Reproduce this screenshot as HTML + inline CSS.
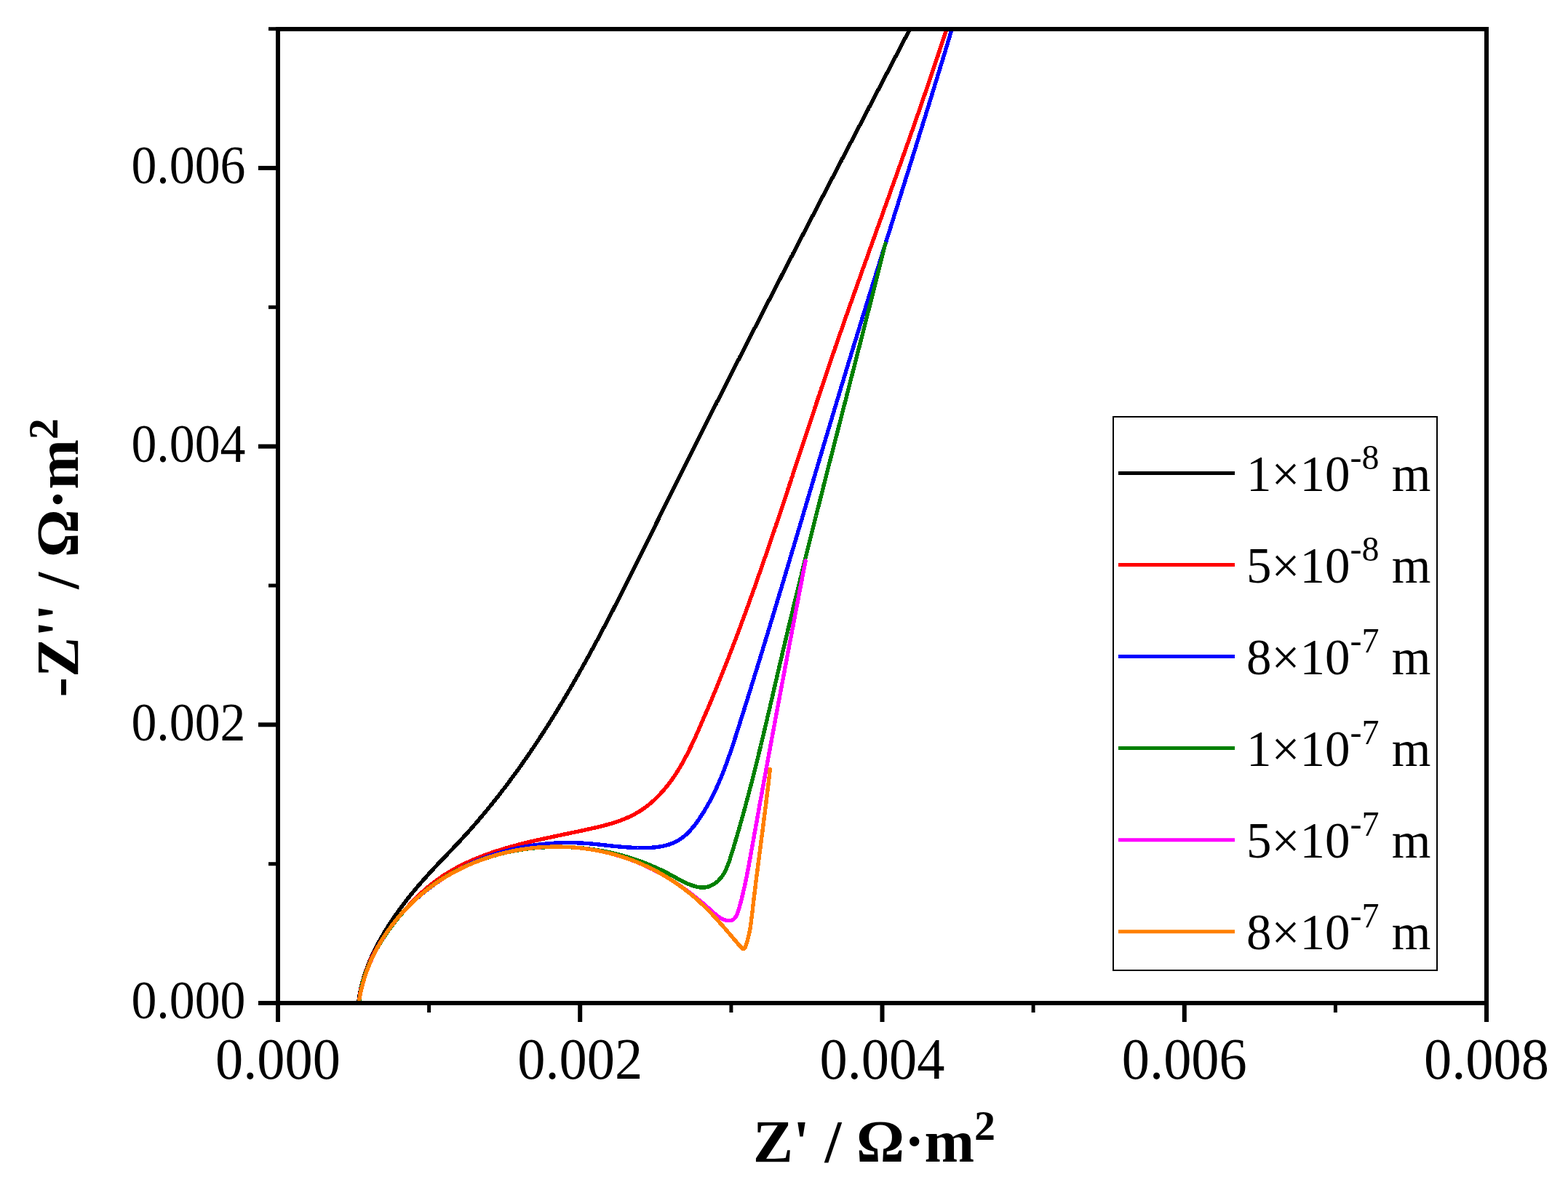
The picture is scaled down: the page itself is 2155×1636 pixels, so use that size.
<!DOCTYPE html><html><head><meta charset="utf-8"><title>Nyquist plot</title><style>html,body{margin:0;padding:0;background:#fff;overflow:hidden;}svg{display:block;}text{font-family:"Liberation Serif","Times New Roman",serif;fill:#000;}</style></head><body>
<svg width="2155" height="1636" viewBox="0 0 2155 1636">
<rect x="0" y="0" width="2155" height="1636" fill="#fff"/>
<defs><clipPath id="pa"><rect x="382" y="40" width="1661" height="1339"/></clipPath></defs>
<g clip-path="url(#pa)" shape-rendering="crispEdges" fill="none" stroke-width="5.4" stroke-linejoin="round" stroke-linecap="round">
<path stroke="#000000" d="M492.5,1379.0 L492.7,1377.5 L492.9,1376.0 L493.1,1374.5 L493.3,1373.0 L493.5,1371.5 L493.8,1370.0 L494.0,1368.5 L494.3,1367.1 L494.5,1365.6 L494.8,1364.1 L495.1,1362.6 L495.4,1361.1 L495.7,1359.7 L496.1,1358.2 L496.4,1356.8 L496.7,1355.3 L497.1,1353.8 L497.5,1352.4 L497.8,1350.9 L498.2,1349.5 L498.6,1348.1 L499.0,1346.6 L499.5,1345.2 L499.9,1343.8 L500.3,1342.3 L500.8,1340.9 L501.2,1339.5 L501.7,1338.1 L502.2,1336.6 L502.7,1335.2 L503.2,1333.8 L503.7,1332.4 L504.2,1331.0 L504.7,1329.6 L505.2,1328.2 L505.8,1326.8 L506.3,1325.4 L506.9,1324.1 L507.4,1322.7 L508.0,1321.3 L508.6,1319.9 L509.2,1318.6 L509.8,1317.2 L510.4,1315.8 L511.0,1314.5 L511.6,1313.1 L512.3,1311.7 L512.9,1310.4 L513.5,1309.0 L514.2,1307.7 L514.8,1306.4 L515.5,1305.0 L516.2,1303.7 L516.8,1302.3 L517.5,1301.0 L518.2,1299.7 L518.9,1298.4 L519.6,1297.0 L520.3,1295.7 L521.0,1294.4 L521.8,1293.1 L522.5,1291.8 L523.2,1290.5 L523.9,1289.2 L524.7,1287.9 L525.4,1286.6 L526.2,1285.3 L526.9,1284.0 L527.7,1282.7 L528.5,1281.4 L529.2,1280.2 L530.0,1278.9 L530.8,1277.6 L531.6,1276.3 L532.4,1275.1 L533.2,1273.8 L534.0,1272.5 L534.8,1271.3 L535.6,1270.0 L536.4,1268.8 L537.2,1267.5 L538.1,1266.3 L538.9,1265.0 L539.7,1263.8 L540.6,1262.6 L541.4,1261.3 L542.2,1260.1 L543.1,1258.9 L543.9,1257.6 L544.8,1256.4 L545.7,1255.2 L546.5,1254.0 L547.4,1252.8 L548.3,1251.6 L549.1,1250.3 L550.0,1249.1 L550.9,1247.9 L551.8,1246.7 L552.7,1245.5 L553.6,1244.3 L554.5,1243.1 L555.4,1241.9 L556.3,1240.8 L557.2,1239.6 L558.1,1238.4 L559.0,1237.2 L560.0,1236.0 L560.9,1234.8 L561.8,1233.7 L562.8,1232.5 L563.7,1231.3 L564.6,1230.2 L565.6,1229.0 L566.5,1227.8 L567.5,1226.7 L568.4,1225.5 L569.4,1224.4 L570.3,1223.2 L571.3,1222.1 L572.3,1220.9 L573.2,1219.8 L574.2,1218.6 L575.2,1217.5 L576.2,1216.3 L577.1,1215.2 L578.1,1214.1 L579.1,1212.9 L580.1,1211.8 L581.1,1210.7 L582.1,1209.5 L583.1,1208.4 L584.1,1207.3 L585.1,1206.2 L586.1,1205.0 L587.1,1203.9 L588.1,1202.8 L589.1,1201.7 L590.1,1200.6 L591.2,1199.5 L592.2,1198.4 L593.2,1197.3 L594.2,1196.1 L595.2,1195.0 L596.3,1193.9 L597.3,1192.8 L598.3,1191.7 L599.4,1190.6 L600.4,1189.5 L601.4,1188.4 L602.5,1187.3 L603.5,1186.3 L604.6,1185.2 L605.6,1184.1 L606.6,1183.0 L607.7,1181.9 L608.7,1180.8 L609.8,1179.7 L610.8,1178.6 L611.9,1177.5 L612.9,1176.4 L613.9,1175.3 L615.0,1174.2 L616.0,1173.1 L617.1,1172.1 L618.1,1171.0 L619.2,1169.9 L620.2,1168.8 L621.2,1167.7 L622.3,1166.6 L623.3,1165.5 L624.4,1164.4 L625.4,1163.3 L626.4,1162.2 L627.5,1161.1 L628.5,1160.0 L629.5,1158.9 L630.6,1157.8 L631.6,1156.7 L632.6,1155.6 L633.6,1154.5 L634.7,1153.4 L635.7,1152.3 L636.7,1151.2 L637.7,1150.1 L638.7,1149.0 L639.7,1147.9 L640.7,1146.7 L641.8,1145.6 L642.8,1144.5 L643.8,1143.4 L644.8,1142.3 L645.8,1141.2 L646.8,1140.0 L647.8,1138.9 L648.8,1137.8 L649.7,1136.7 L650.7,1135.5 L651.7,1134.4 L652.7,1133.3 L653.7,1132.1 L654.7,1131.0 L655.6,1129.9 L656.6,1128.7 L657.6,1127.6 L658.6,1126.4 L659.5,1125.3 L660.5,1124.2 L661.5,1123.0 L662.4,1121.9 L663.4,1120.7 L664.4,1119.6 L665.3,1118.4 L666.3,1117.3 L667.2,1116.1 L668.2,1115.0 L669.2,1113.8 L670.1,1112.7 L671.1,1111.5 L672.0,1110.3 L672.9,1109.2 L673.9,1108.0 L674.8,1106.9 L675.8,1105.7 L676.7,1104.5 L677.6,1103.4 L678.6,1102.2 L679.5,1101.0 L680.4,1099.9 L681.4,1098.7 L682.3,1097.5 L683.2,1096.4 L684.1,1095.2 L685.1,1094.0 L686.0,1092.8 L686.9,1091.6 L687.8,1090.5 L688.7,1089.3 L689.6,1088.1 L690.5,1086.9 L691.5,1085.7 L692.4,1084.5 L693.3,1083.4 L694.2,1082.2 L695.1,1081.0 L696.0,1079.8 L696.9,1078.6 L697.8,1077.4 L698.7,1076.2 L699.6,1075.0 L700.4,1073.8 L701.3,1072.6 L702.2,1071.4 L703.1,1070.2 L704.0,1069.0 L704.9,1067.8 L705.8,1066.6 L706.6,1065.4 L707.5,1064.2 L708.4,1063.0 L709.3,1061.8 L710.1,1060.6 L711.0,1059.4 L711.9,1058.2 L712.8,1057.0 L713.6,1055.7 L714.5,1054.5 L715.4,1053.3 L716.2,1052.1 L717.1,1050.9 L717.9,1049.7 L718.8,1048.4 L719.6,1047.2 L720.5,1046.0 L721.4,1044.8 L722.2,1043.5 L723.1,1042.3 L723.9,1041.1 L724.8,1039.9 L725.6,1038.6 L726.4,1037.4 L727.3,1036.2 L728.1,1034.9 L729.0,1033.7 L729.8,1032.5 L730.6,1031.2 L731.5,1030.0 L732.3,1028.8 L733.1,1027.5 L734.0,1026.3 L734.8,1025.1 L735.6,1023.8 L736.5,1022.6 L737.3,1021.3 L738.1,1020.1 L738.9,1018.8 L739.8,1017.6 L740.6,1016.4 L741.4,1015.1 L742.2,1013.9 L743.0,1012.6 L743.8,1011.4 L744.6,1010.1 L745.5,1008.9 L746.3,1007.6 L747.1,1006.4 L747.9,1005.1 L748.7,1003.8 L749.5,1002.6 L750.3,1001.3 L751.1,1000.1 L751.9,998.8 L752.7,997.6 L753.5,996.3 L754.3,995.0 L755.1,993.8 L755.9,992.5 L756.7,991.2 L757.5,990.0 L758.3,988.7 L759.1,987.4 L759.8,986.2 L760.6,984.9 L761.4,983.6 L762.2,982.4 L763.0,981.1 L763.8,979.8 L764.5,978.6 L765.3,977.3 L766.1,976.0 L766.9,974.7 L767.7,973.5 L768.4,972.2 L769.2,970.9 L770.0,969.6 L770.8,968.3 L771.5,967.1 L772.3,965.8 L773.1,964.5 L773.8,963.2 L774.6,961.9 L775.4,960.6 L776.1,959.4 L776.9,958.1 L777.6,956.8 L778.4,955.5 L779.2,954.2 L779.9,952.9 L780.7,951.6 L781.4,950.4 L782.2,949.1 L782.9,947.8 L783.7,946.5 L784.5,945.2 L785.2,943.9 L786.0,942.6 L786.7,941.3 L787.5,940.0 L788.2,938.7 L788.9,937.4 L789.7,936.1 L790.4,934.8 L791.2,933.5 L791.9,932.2 L792.7,930.9 L793.4,929.6 L794.1,928.3 L794.9,927.0 L795.6,925.7 L796.3,924.4 L797.1,923.1 L797.8,921.8 L798.5,920.5 L799.3,919.2 L800.0,917.9 L800.7,916.6 L801.5,915.3 L802.2,914.0 L802.9,912.7 L803.7,911.3 L804.4,910.0 L805.1,908.7 L805.8,907.4 L806.6,906.1 L807.3,904.8 L808.0,903.5 L808.7,902.2 L809.4,900.8 L810.2,899.5 L810.9,898.2 L811.6,896.9 L812.3,895.6 L813.0,894.3 L813.7,893.0 L814.5,891.6 L815.2,890.3 L815.9,889.0 L816.6,887.7 L817.3,886.4 L818.0,885.0 L818.7,883.7 L819.4,882.4 L820.2,881.1 L820.9,879.8 L821.6,878.4 L822.3,877.1 L823.0,875.8 L823.7,874.5 L824.4,873.1 L825.1,871.8 L825.8,870.5 L826.5,869.2 L827.2,867.8 L827.9,866.5 L828.6,865.2 L829.3,863.8 L830.0,862.5 L830.7,861.2 L831.4,859.9 L832.1,858.5 L832.8,857.2 L833.5,855.9 L834.2,854.5 L834.9,853.2 L835.6,851.9 L836.3,850.5 L837.0,849.2 L837.6,847.9 L838.3,846.6 L839.0,845.2 L839.7,843.9 L840.4,842.6 L841.1,841.2 L841.8,839.9 L842.5,838.5 L843.2,837.2 L843.8,835.9 L844.5,834.5 L845.2,833.2 L845.9,831.9 L846.6,830.5 L847.3,829.2 L848.0,827.9 L848.6,826.5 L849.3,825.2 L850.0,823.8 L850.7,822.5 L851.4,821.2 L852.1,819.8 L852.7,818.5 L853.4,817.1 L854.1,815.8 L854.8,814.5 L855.5,813.1 L856.1,811.8 L856.8,810.4 L857.5,809.1 L858.2,807.8 L858.8,806.4 L859.5,805.1 L860.2,803.7 L860.9,802.4 L861.6,801.0 L862.2,799.7 L862.9,798.4 L863.6,797.0 L864.3,795.7 L864.9,794.3 L865.6,793.0 L866.3,791.6 L866.9,790.3 L867.6,788.9 L868.3,787.6 L869.0,786.3 L869.6,784.9 L870.3,783.6 L871.0,782.2 L871.6,780.9 L872.3,779.5 L873.0,778.2 L873.7,776.8 L874.3,775.5 L875.0,774.1 L875.7,772.8 L876.3,771.4 L877.0,770.1 L877.7,768.8 L878.3,767.4 L879.0,766.1 L879.7,764.7 L880.3,763.4 L881.0,762.0 L881.7,760.7 L882.4,759.3 L883.0,758.0 L883.7,756.6 L884.4,755.3 L885.0,753.9 L885.7,752.6 L886.4,751.2 L887.0,749.9 L887.7,748.5 L888.4,747.2 L889.0,745.8 L889.7,744.5 L890.4,743.1 L891.0,741.8 L891.7,740.5 L892.3,739.1 L893.0,737.8 L893.7,736.4 L894.3,735.1 L895.0,733.7 L895.7,732.4 L896.3,731.0 L897.0,729.7 L897.7,728.3 L898.3,727.0 L899.0,725.6 L899.7,724.3 L900.3,722.9 L901.0,721.6 L901.7,720.2 L902.3,718.9 L903.0,717.5 L903.7,716.2 L904.3,714.8 L905.0,713.5 L905.7,712.1 L906.3,710.8 L907.0,709.4 L907.7,708.1 L908.3,706.7 L909.0,705.4 L909.6,704.1 L910.3,702.7 L911.0,701.4 L911.6,700.0 L912.3,698.7 L913.0,697.3 L913.6,696.0 L914.3,694.6 L915.0,693.3 L915.6,691.9 L916.3,690.6 L917.0,689.2 L917.6,687.9 L918.3,686.5 L919.0,685.2 L919.6,683.9 L920.3,682.5 L921.0,681.2 L921.6,679.8 L922.3,678.5 L923.0,677.1 L923.7,675.8 L924.3,674.4 L925.0,673.1 L925.7,671.8 L926.3,670.4 L927.0,669.1 L927.7,667.7 L928.3,666.4 L929.0,665.0 L929.7,663.7 L930.3,662.3 L931.0,661.0 L931.7,659.7 L932.3,658.3 L933.0,657.0 L933.7,655.6 L934.4,654.3 L935.0,652.9 L935.7,651.6 L936.4,650.3 L937.0,648.9 L937.7,647.6 L938.4,646.2 L939.0,644.9 L939.7,643.5 L940.4,642.2 L941.1,640.9 L941.7,639.5 L942.4,638.2 L943.1,636.8 L943.7,635.5 L944.4,634.1 L945.1,632.8 L945.8,631.5 L946.4,630.1 L947.1,628.8 L947.8,627.4 L948.4,626.1 L949.1,624.8 L949.8,623.4 L950.5,622.1 L951.1,620.7 L951.8,619.4 L952.5,618.1 L953.1,616.7 L953.8,615.4 L954.5,614.0 L955.2,612.7 L955.8,611.4 L956.5,610.0 L957.2,608.7 L957.9,607.3 L958.5,606.0 L959.2,604.7 L959.9,603.3 L960.5,602.0 L961.2,600.6 L961.9,599.3 L962.6,598.0 L963.2,596.6 L963.9,595.3 L964.6,593.9 L965.3,592.6 L965.9,591.3 L966.6,589.9 L967.3,588.6 L968.0,587.2 L968.6,585.9 L969.3,584.6 L970.0,583.2 L970.7,581.9 L971.3,580.6 L972.0,579.2 L972.7,577.9 L973.4,576.5 L974.0,575.2 L974.7,573.9 L975.4,572.5 L976.1,571.2 L976.7,569.9 L977.4,568.5 L978.1,567.2 L978.8,565.8 L979.4,564.5 L980.1,563.2 L980.8,561.8 L981.5,560.5 L982.1,559.2 L982.8,557.8 L983.5,556.5 L984.2,555.2 L984.8,553.8 L985.5,552.5 L986.2,551.1 L986.9,549.8 L987.6,548.5 L988.2,547.1 L988.9,545.8 L989.6,544.5 L990.3,543.1 L990.9,541.8 L991.6,540.5 L992.3,539.1 L993.0,537.8 L993.6,536.4 L994.3,535.1 L995.0,533.8 L995.7,532.4 L996.4,531.1 L997.0,529.8 L997.7,528.4 L998.4,527.1 L999.1,525.8 L999.8,524.4 L1000.4,523.1 L1001.1,521.8 L1001.8,520.4 L1002.5,519.1 L1003.1,517.8 L1003.8,516.4 L1004.5,515.1 L1005.2,513.8 L1005.9,512.4 L1006.5,511.1 L1007.2,509.8 L1007.9,508.4 L1008.6,507.1 L1009.3,505.8 L1009.9,504.4 L1010.6,503.1 L1011.3,501.8 L1012.0,500.4 L1012.7,499.1 L1013.3,497.8 L1014.0,496.4 L1014.7,495.1 L1015.4,493.8 L1016.1,492.4 L1016.7,491.1 L1017.4,489.8 L1018.1,488.4 L1018.8,487.1 L1019.5,485.8 L1020.1,484.4 L1020.8,483.1 L1021.5,481.8 L1022.2,480.4 L1022.9,479.1 L1023.5,477.8 L1024.2,476.4 L1024.9,475.1 L1025.6,473.8 L1026.3,472.4 L1027.0,471.1 L1027.6,469.8 L1028.3,468.4 L1029.0,467.1 L1029.7,465.8 L1030.4,464.4 L1031.0,463.1 L1031.7,461.8 L1032.4,460.4 L1033.1,459.1 L1033.8,457.8 L1034.5,456.4 L1035.1,455.1 L1035.8,453.8 L1036.5,452.4 L1037.2,451.1 L1037.9,449.8 L1038.6,448.5 L1039.2,447.1 L1039.9,445.8 L1040.6,444.5 L1041.3,443.1 L1042.0,441.8 L1042.6,440.5 L1043.3,439.1 L1044.0,437.8 L1044.7,436.5 L1045.4,435.1 L1046.1,433.8 L1046.7,432.5 L1047.4,431.1 L1048.1,429.8 L1048.8,428.5 L1049.5,427.2 L1050.2,425.8 L1050.9,424.5 L1051.5,423.2 L1052.2,421.8 L1052.9,420.5 L1053.6,419.2 L1054.3,417.8 L1055.0,416.5 L1055.6,415.2 L1056.3,413.8 L1057.0,412.5 L1057.7,411.2 L1058.4,409.9 L1059.1,408.5 L1059.7,407.2 L1060.4,405.9 L1061.1,404.5 L1061.8,403.2 L1062.5,401.9 L1063.2,400.5 L1063.9,399.2 L1064.5,397.9 L1065.2,396.6 L1065.9,395.2 L1066.6,393.9 L1067.3,392.6 L1068.0,391.2 L1068.7,389.9 L1069.3,388.6 L1070.0,387.2 L1070.7,385.9 L1071.4,384.6 L1072.1,383.3 L1072.8,381.9 L1073.5,380.6 L1074.1,379.3 L1074.8,377.9 L1075.5,376.6 L1076.2,375.3 L1076.9,374.0 L1077.6,372.6 L1078.3,371.3 L1078.9,370.0 L1079.6,368.6 L1080.3,367.3 L1081.0,366.0 L1081.7,364.6 L1082.4,363.3 L1083.1,362.0 L1083.8,360.7 L1084.4,359.3 L1085.1,358.0 L1085.8,356.7 L1086.5,355.3 L1087.2,354.0 L1087.9,352.7 L1088.6,351.4 L1089.3,350.0 L1089.9,348.7 L1090.6,347.4 L1091.3,346.0 L1092.0,344.7 L1092.7,343.4 L1093.4,342.1 L1094.1,340.7 L1094.8,339.4 L1095.4,338.1 L1096.1,336.7 L1096.8,335.4 L1097.5,334.1 L1098.2,332.8 L1098.9,331.4 L1099.6,330.1 L1100.3,328.8 L1100.9,327.4 L1101.6,326.1 L1102.3,324.8 L1103.0,323.5 L1103.7,322.1 L1104.4,320.8 L1105.1,319.5 L1105.8,318.1 L1106.5,316.8 L1107.1,315.5 L1107.8,314.2 L1108.5,312.8 L1109.2,311.5 L1109.9,310.2 L1110.6,308.8 L1111.3,307.5 L1112.0,306.2 L1112.7,304.9 L1113.3,303.5 L1114.0,302.2 L1114.7,300.9 L1115.4,299.5 L1116.1,298.2 L1116.8,296.9 L1117.5,295.6 L1118.2,294.2 L1118.9,292.9 L1119.5,291.6 L1120.2,290.2 L1120.9,288.9 L1121.6,287.6 L1122.3,286.3 L1123.0,284.9 L1123.7,283.6 L1124.4,282.3 L1125.1,280.9 L1125.8,279.6 L1126.4,278.3 L1127.1,277.0 L1127.8,275.6 L1128.5,274.3 L1129.2,273.0 L1129.9,271.6 L1130.6,270.3 L1131.3,269.0 L1132.0,267.7 L1132.7,266.3 L1133.3,265.0 L1134.0,263.7 L1134.7,262.3 L1135.4,261.0 L1136.1,259.7 L1136.8,258.4 L1137.5,257.0 L1138.2,255.7 L1138.9,254.4 L1139.6,253.0 L1140.3,251.7 L1140.9,250.4 L1141.6,249.1 L1142.3,247.7 L1143.0,246.4 L1143.7,245.1 L1144.4,243.7 L1145.1,242.4 L1145.8,241.1 L1146.5,239.8 L1147.2,238.4 L1147.9,237.1 L1148.5,235.8 L1149.2,234.4 L1149.9,233.1 L1150.6,231.8 L1151.3,230.5 L1152.0,229.1 L1152.7,227.8 L1153.4,226.5 L1154.1,225.1 L1154.8,223.8 L1155.5,222.5 L1156.2,221.2 L1156.8,219.8 L1157.5,218.5 L1158.2,217.2 L1158.9,215.8 L1159.6,214.5 L1160.3,213.2 L1161.0,211.9 L1161.7,210.5 L1162.4,209.2 L1163.1,207.9 L1163.8,206.5 L1164.5,205.2 L1165.2,203.9 L1165.8,202.6 L1166.5,201.2 L1167.2,199.9 L1167.9,198.6 L1168.6,197.2 L1169.3,195.9 L1170.0,194.6 L1170.7,193.3 L1171.4,191.9 L1172.1,190.6 L1172.8,189.3 L1173.5,187.9 L1174.2,186.6 L1174.8,185.3 L1175.5,183.9 L1176.2,182.6 L1176.9,181.3 L1177.6,180.0 L1178.3,178.6 L1179.0,177.3 L1179.7,176.0 L1180.4,174.6 L1181.1,173.3 L1181.8,172.0 L1182.5,170.7 L1183.2,169.3 L1183.9,168.0 L1184.5,166.7 L1185.2,165.3 L1185.9,164.0 L1186.6,162.7 L1187.3,161.3 L1188.0,160.0 L1188.7,158.7 L1189.4,157.4 L1190.1,156.0 L1190.8,154.7 L1191.5,153.4 L1192.2,152.0 L1192.9,150.7 L1193.6,149.4 L1194.2,148.0 L1194.9,146.7 L1195.6,145.4 L1196.3,144.1 L1197.0,142.7 L1197.7,141.4 L1198.4,140.1 L1199.1,138.7 L1199.8,137.4 L1200.5,136.1 L1201.2,134.7 L1201.9,133.4 L1202.6,132.1 L1203.3,130.8 L1204.0,129.4 L1204.7,128.1 L1205.3,126.8 L1206.0,125.4 L1206.7,124.1 L1207.4,122.8 L1208.1,121.4 L1208.8,120.1 L1209.5,118.8 L1210.2,117.4 L1210.9,116.1 L1211.6,114.8 L1212.3,113.5 L1213.0,112.1 L1213.7,110.8 L1214.4,109.5 L1215.1,108.1 L1215.8,106.8 L1216.4,105.5 L1217.1,104.1 L1217.8,102.8 L1218.5,101.5 L1219.2,100.1 L1219.9,98.8 L1220.6,97.5 L1221.3,96.1 L1222.0,94.8 L1222.7,93.5 L1223.4,92.1 L1224.1,90.8 L1224.8,89.5 L1225.5,88.2 L1226.2,86.8 L1226.9,85.5 L1227.6,84.2 L1228.3,82.8 L1228.9,81.5 L1229.6,80.2 L1230.3,78.8 L1231.0,77.5 L1231.7,76.2 L1232.4,74.8 L1233.1,73.5 L1233.8,72.2 L1234.5,70.8 L1235.2,69.5 L1235.9,68.2 L1236.6,66.8 L1237.3,65.5 L1238.0,64.2 L1238.7,62.8 L1239.4,61.5 L1240.1,60.2 L1240.8,58.8 L1241.4,57.5 L1242.1,56.2 L1242.8,54.8 L1243.5,53.5 L1244.2,52.2 L1244.9,50.8 L1245.6,49.5 L1246.3,48.2 L1247.0,46.8 L1247.7,45.5 L1248.4,44.2 L1249.1,42.8 L1249.8,41.5 L1250.5,40.2 L1251.2,38.8 L1251.9,37.5 L1252.6,36.2"/>
<path stroke="#FF0000" d="M493.3,1379.2 L493.4,1377.6 L493.6,1376.1 L493.7,1374.5 L493.9,1373.0 L494.1,1371.5 L494.3,1370.0 L494.5,1368.5 L494.7,1366.9 L494.9,1365.4 L495.2,1363.9 L495.5,1362.5 L495.7,1361.0 L496.0,1359.5 L496.3,1358.0 L496.7,1356.5 L497.0,1355.1 L497.3,1353.6 L497.7,1352.1 L498.1,1350.7 L498.5,1349.2 L498.9,1347.8 L499.3,1346.4 L499.7,1344.9 L500.1,1343.5 L500.6,1342.1 L501.0,1340.7 L501.5,1339.3 L502.0,1337.9 L502.5,1336.5 L503.0,1335.1 L503.5,1333.7 L504.0,1332.3 L504.6,1330.9 L505.1,1329.5 L505.7,1328.2 L506.2,1326.8 L506.8,1325.4 L507.4,1324.1 L508.0,1322.7 L508.6,1321.4 L509.2,1320.0 L509.9,1318.7 L510.5,1317.4 L511.1,1316.0 L511.8,1314.7 L512.5,1313.4 L513.1,1312.1 L513.8,1310.8 L514.5,1309.5 L515.2,1308.1 L515.9,1306.9 L516.7,1305.6 L517.4,1304.3 L518.1,1303.0 L518.9,1301.7 L519.6,1300.4 L520.4,1299.2 L521.1,1297.9 L521.9,1296.6 L522.7,1295.4 L523.5,1294.1 L524.3,1292.9 L525.1,1291.6 L525.9,1290.4 L526.7,1289.1 L527.6,1287.9 L528.4,1286.7 L529.2,1285.4 L530.1,1284.2 L530.9,1283.0 L531.8,1281.8 L532.7,1280.6 L533.6,1279.4 L534.4,1278.1 L535.3,1276.9 L536.2,1275.7 L537.1,1274.5 L538.0,1273.3 L538.9,1272.1 L539.9,1271.0 L540.8,1269.8 L541.7,1268.6 L542.7,1267.4 L543.6,1266.2 L544.6,1265.0 L545.5,1263.9 L546.5,1262.7 L547.4,1261.5 L548.4,1260.4 L549.4,1259.2 L550.4,1258.0 L551.4,1256.9 L552.4,1255.7 L553.3,1254.6 L554.4,1253.4 L555.4,1252.3 L556.4,1251.1 L557.4,1250.0 L558.4,1248.8 L559.4,1247.7 L560.5,1246.5 L561.5,1245.4 L562.5,1244.3 L563.6,1243.1 L564.6,1242.0 L565.7,1240.9 L566.8,1239.8 L567.8,1238.7 L568.9,1237.6 L570.0,1236.5 L571.0,1235.4 L572.1,1234.3 L573.2,1233.2 L574.3,1232.1 L575.4,1231.1 L576.5,1230.0 L577.6,1229.0 L578.7,1227.9 L579.9,1226.9 L581.0,1225.8 L582.1,1224.8 L583.2,1223.8 L584.4,1222.8 L585.5,1221.8 L586.7,1220.8 L587.8,1219.8 L589.0,1218.9 L590.1,1217.9 L591.3,1217.0 L592.5,1216.0 L593.7,1215.1 L594.8,1214.2 L596.0,1213.3 L597.2,1212.4 L598.4,1211.5 L599.6,1210.6 L600.8,1209.7 L602.0,1208.8 L603.2,1208.0 L604.5,1207.1 L605.7,1206.3 L606.9,1205.5 L608.1,1204.6 L609.4,1203.8 L610.6,1203.0 L611.9,1202.2 L613.1,1201.4 L614.4,1200.6 L615.6,1199.9 L616.9,1199.1 L618.2,1198.3 L619.4,1197.6 L620.7,1196.8 L622.0,1196.1 L623.3,1195.4 L624.5,1194.7 L625.8,1193.9 L627.1,1193.2 L628.4,1192.5 L629.7,1191.8 L631.0,1191.2 L632.3,1190.5 L633.6,1189.8 L635.0,1189.2 L636.3,1188.5 L637.6,1187.9 L638.9,1187.2 L640.3,1186.6 L641.6,1185.9 L642.9,1185.3 L644.3,1184.7 L645.6,1184.1 L646.9,1183.5 L648.3,1182.9 L649.6,1182.3 L651.0,1181.7 L652.4,1181.2 L653.7,1180.6 L655.1,1180.0 L656.4,1179.5 L657.8,1178.9 L659.2,1178.4 L660.6,1177.8 L661.9,1177.3 L663.3,1176.7 L664.7,1176.2 L666.1,1175.7 L667.5,1175.2 L668.9,1174.7 L670.3,1174.2 L671.7,1173.7 L673.1,1173.2 L674.5,1172.7 L675.9,1172.2 L677.3,1171.7 L678.7,1171.3 L680.1,1170.8 L681.5,1170.3 L682.9,1169.9 L684.3,1169.4 L685.8,1169.0 L687.2,1168.5 L688.6,1168.1 L690.0,1167.6 L691.5,1167.2 L692.9,1166.8 L694.3,1166.3 L695.8,1165.9 L697.2,1165.5 L698.6,1165.1 L700.1,1164.7 L701.5,1164.3 L703.0,1163.9 L704.4,1163.5 L705.9,1163.1 L707.3,1162.7 L708.8,1162.3 L710.2,1161.9 L711.7,1161.5 L713.1,1161.1 L714.6,1160.8 L716.0,1160.4 L717.5,1160.0 L719.0,1159.6 L720.4,1159.3 L721.9,1158.9 L723.4,1158.6 L724.8,1158.2 L726.3,1157.8 L727.8,1157.5 L729.2,1157.1 L730.7,1156.8 L732.2,1156.5 L733.6,1156.1 L735.1,1155.8 L736.6,1155.4 L738.1,1155.1 L739.5,1154.8 L741.0,1154.4 L742.5,1154.1 L744.0,1153.8 L745.5,1153.4 L746.9,1153.1 L748.4,1152.8 L749.9,1152.5 L751.4,1152.1 L752.9,1151.8 L754.3,1151.5 L755.8,1151.2 L757.3,1150.9 L758.8,1150.5 L760.3,1150.2 L761.8,1149.9 L763.2,1149.6 L764.7,1149.3 L766.2,1149.0 L767.7,1148.7 L769.2,1148.4 L770.7,1148.0 L772.1,1147.7 L773.6,1147.4 L775.1,1147.1 L776.6,1146.8 L778.1,1146.5 L779.6,1146.2 L781.1,1145.9 L782.5,1145.6 L784.0,1145.3 L785.5,1144.9 L787.0,1144.6 L788.5,1144.3 L790.0,1144.0 L791.4,1143.7 L792.9,1143.4 L794.4,1143.1 L795.9,1142.8 L797.4,1142.4 L798.8,1142.1 L800.3,1141.8 L801.8,1141.5 L803.3,1141.2 L804.8,1140.9 L806.2,1140.5 L807.7,1140.2 L809.2,1139.9 L810.6,1139.6 L812.1,1139.2 L813.6,1138.9 L815.1,1138.6 L816.5,1138.2 L818.0,1137.9 L819.5,1137.6 L820.9,1137.2 L822.4,1136.9 L823.8,1136.5 L825.3,1136.2 L826.7,1135.8 L828.2,1135.4 L829.6,1135.1 L831.1,1134.7 L832.5,1134.3 L834.0,1133.9 L835.4,1133.5 L836.8,1133.1 L838.3,1132.7 L839.7,1132.3 L841.1,1131.9 L842.5,1131.4 L843.9,1131.0 L845.4,1130.5 L846.8,1130.1 L848.2,1129.6 L849.6,1129.1 L850.9,1128.6 L852.3,1128.1 L853.7,1127.6 L855.1,1127.1 L856.5,1126.6 L857.8,1126.0 L859.2,1125.5 L860.5,1124.9 L861.9,1124.3 L863.2,1123.7 L864.6,1123.1 L865.9,1122.5 L867.2,1121.8 L868.5,1121.2 L869.9,1120.5 L871.2,1119.8 L872.5,1119.1 L873.7,1118.4 L875.0,1117.7 L876.3,1117.0 L877.6,1116.2 L878.8,1115.4 L880.1,1114.6 L881.3,1113.8 L882.6,1113.0 L883.8,1112.1 L885.0,1111.3 L886.2,1110.4 L887.4,1109.5 L888.6,1108.6 L889.8,1107.7 L891.0,1106.8 L892.2,1105.8 L893.3,1104.9 L894.5,1103.9 L895.6,1102.9 L896.7,1101.9 L897.9,1100.9 L899.0,1099.9 L900.1,1098.9 L901.2,1097.8 L902.2,1096.8 L903.3,1095.7 L904.4,1094.7 L905.4,1093.6 L906.5,1092.5 L907.5,1091.4 L908.5,1090.3 L909.5,1089.2 L910.5,1088.1 L911.5,1087.0 L912.5,1085.9 L913.5,1084.7 L914.4,1083.6 L915.4,1082.4 L916.3,1081.3 L917.2,1080.1 L918.2,1078.9 L919.1,1077.8 L920.0,1076.6 L920.9,1075.4 L921.7,1074.2 L922.6,1073.0 L923.5,1071.8 L924.3,1070.6 L925.2,1069.3 L926.0,1068.1 L926.9,1066.9 L927.7,1065.6 L928.5,1064.4 L929.3,1063.2 L930.1,1061.9 L930.9,1060.6 L931.7,1059.4 L932.5,1058.1 L933.3,1056.8 L934.0,1055.6 L934.8,1054.3 L935.6,1053.0 L936.3,1051.7 L937.1,1050.4 L937.8,1049.1 L938.5,1047.8 L939.2,1046.5 L940.0,1045.2 L940.7,1043.9 L941.4,1042.5 L942.1,1041.2 L942.8,1039.9 L943.5,1038.6 L944.2,1037.2 L944.9,1035.9 L945.5,1034.6 L946.2,1033.2 L946.9,1031.9 L947.5,1030.5 L948.2,1029.2 L948.9,1027.8 L949.5,1026.5 L950.2,1025.1 L950.8,1023.7 L951.5,1022.4 L952.1,1021.0 L952.7,1019.7 L953.4,1018.3 L954.0,1016.9 L954.6,1015.5 L955.3,1014.2 L955.9,1012.8 L956.5,1011.4 L957.1,1010.0 L957.7,1008.7 L958.4,1007.3 L959.0,1005.9 L959.6,1004.5 L960.2,1003.2 L960.8,1001.8 L961.4,1000.4 L962.0,999.0 L962.6,997.6 L963.2,996.2 L963.8,994.9 L964.4,993.5 L965.0,992.1 L965.6,990.7 L966.2,989.3 L966.8,987.9 L967.4,986.6 L968.0,985.2 L968.6,983.8 L969.2,982.4 L969.8,981.0 L970.4,979.6 L971.0,978.3 L971.6,976.9 L972.2,975.5 L972.8,974.1 L973.4,972.7 L973.9,971.3 L974.5,969.9 L975.1,968.5 L975.7,967.2 L976.3,965.8 L976.9,964.4 L977.4,963.0 L978.0,961.6 L978.6,960.2 L979.2,958.8 L979.8,957.4 L980.3,956.0 L980.9,954.7 L981.5,953.3 L982.1,951.9 L982.6,950.5 L983.2,949.1 L983.8,947.7 L984.3,946.3 L984.9,944.9 L985.5,943.5 L986.1,942.1 L986.6,940.7 L987.2,939.3 L987.8,937.9 L988.3,936.6 L988.9,935.2 L989.4,933.8 L990.0,932.4 L990.6,931.0 L991.1,929.6 L991.7,928.2 L992.2,926.8 L992.8,925.4 L993.4,924.0 L993.9,922.6 L994.5,921.2 L995.0,919.8 L995.6,918.4 L996.1,917.0 L996.7,915.6 L997.2,914.2 L997.8,912.8 L998.3,911.4 L998.9,910.0 L999.4,908.6 L1000.0,907.2 L1000.5,905.8 L1001.1,904.4 L1001.6,903.0 L1002.2,901.6 L1002.7,900.2 L1003.2,898.8 L1003.8,897.4 L1004.3,896.0 L1004.9,894.6 L1005.4,893.2 L1005.9,891.8 L1006.5,890.4 L1007.0,889.0 L1007.5,887.6 L1008.1,886.2 L1008.6,884.8 L1009.2,883.4 L1009.7,882.0 L1010.2,880.6 L1010.8,879.2 L1011.3,877.8 L1011.8,876.4 L1012.3,875.0 L1012.9,873.6 L1013.4,872.2 L1013.9,870.8 L1014.5,869.4 L1015.0,868.0 L1015.5,866.6 L1016.0,865.2 L1016.6,863.8 L1017.1,862.4 L1017.6,861.0 L1018.1,859.6 L1018.7,858.1 L1019.2,856.7 L1019.7,855.3 L1020.2,853.9 L1020.7,852.5 L1021.3,851.1 L1021.8,849.7 L1022.3,848.3 L1022.8,846.9 L1023.3,845.5 L1023.8,844.1 L1024.4,842.7 L1024.9,841.3 L1025.4,839.9 L1025.9,838.4 L1026.4,837.0 L1026.9,835.6 L1027.4,834.2 L1027.9,832.8 L1028.5,831.4 L1029.0,830.0 L1029.5,828.6 L1030.0,827.2 L1030.5,825.8 L1031.0,824.4 L1031.5,822.9 L1032.0,821.5 L1032.5,820.1 L1033.0,818.7 L1033.5,817.3 L1034.0,815.9 L1034.5,814.5 L1035.0,813.1 L1035.5,811.7 L1036.0,810.3 L1036.5,808.8 L1037.1,807.4 L1037.6,806.0 L1038.1,804.6 L1038.6,803.2 L1039.1,801.8 L1039.6,800.4 L1040.0,799.0 L1040.5,797.5 L1041.0,796.1 L1041.5,794.7 L1042.0,793.3 L1042.5,791.9 L1043.0,790.5 L1043.5,789.1 L1044.0,787.6 L1044.5,786.2 L1045.0,784.8 L1045.5,783.4 L1046.0,782.0 L1046.5,780.6 L1047.0,779.2 L1047.5,777.8 L1048.0,776.3 L1048.5,774.9 L1048.9,773.5 L1049.4,772.1 L1049.9,770.7 L1050.4,769.3 L1050.9,767.8 L1051.4,766.4 L1051.9,765.0 L1052.4,763.6 L1052.9,762.2 L1053.3,760.8 L1053.8,759.4 L1054.3,757.9 L1054.8,756.5 L1055.3,755.1 L1055.8,753.7 L1056.3,752.3 L1056.7,750.9 L1057.2,749.4 L1057.7,748.0 L1058.2,746.6 L1058.7,745.2 L1059.2,743.8 L1059.6,742.3 L1060.1,740.9 L1060.6,739.5 L1061.1,738.1 L1061.6,736.7 L1062.0,735.3 L1062.5,733.8 L1063.0,732.4 L1063.5,731.0 L1064.0,729.6 L1064.4,728.2 L1064.9,726.8 L1065.4,725.3 L1065.9,723.9 L1066.4,722.5 L1066.8,721.1 L1067.3,719.7 L1067.8,718.2 L1068.3,716.8 L1068.7,715.4 L1069.2,714.0 L1069.7,712.6 L1070.2,711.1 L1070.6,709.7 L1071.1,708.3 L1071.6,706.9 L1072.1,705.5 L1072.5,704.0 L1073.0,702.6 L1073.5,701.2 L1074.0,699.8 L1074.4,698.4 L1074.9,696.9 L1075.4,695.5 L1075.9,694.1 L1076.3,692.7 L1076.8,691.3 L1077.3,689.8 L1077.8,688.4 L1078.2,687.0 L1078.7,685.6 L1079.2,684.2 L1079.6,682.7 L1080.1,681.3 L1080.6,679.9 L1081.1,678.5 L1081.5,677.1 L1082.0,675.6 L1082.5,674.2 L1082.9,672.8 L1083.4,671.4 L1083.9,670.0 L1084.4,668.5 L1084.8,667.1 L1085.3,665.7 L1085.8,664.3 L1086.2,662.9 L1086.7,661.4 L1087.2,660.0 L1087.6,658.6 L1088.1,657.2 L1088.6,655.7 L1089.1,654.3 L1089.5,652.9 L1090.0,651.5 L1090.5,650.1 L1090.9,648.6 L1091.4,647.2 L1091.9,645.8 L1092.3,644.4 L1092.8,642.9 L1093.3,641.5 L1093.7,640.1 L1094.2,638.7 L1094.7,637.3 L1095.2,635.8 L1095.6,634.4 L1096.1,633.0 L1096.6,631.6 L1097.0,630.2 L1097.5,628.7 L1098.0,627.3 L1098.4,625.9 L1098.9,624.5 L1099.4,623.0 L1099.8,621.6 L1100.3,620.2 L1100.8,618.8 L1101.2,617.4 L1101.7,615.9 L1102.2,614.5 L1102.6,613.1 L1103.1,611.7 L1103.6,610.2 L1104.1,608.8 L1104.5,607.4 L1105.0,606.0 L1105.5,604.6 L1105.9,603.1 L1106.4,601.7 L1106.9,600.3 L1107.3,598.9 L1107.8,597.4 L1108.3,596.0 L1108.7,594.6 L1109.2,593.2 L1109.7,591.8 L1110.2,590.3 L1110.6,588.9 L1111.1,587.5 L1111.6,586.1 L1112.0,584.6 L1112.5,583.2 L1113.0,581.8 L1113.4,580.4 L1113.9,579.0 L1114.4,577.5 L1114.9,576.1 L1115.3,574.7 L1115.8,573.3 L1116.3,571.9 L1116.7,570.4 L1117.2,569.0 L1117.7,567.6 L1118.2,566.2 L1118.6,564.7 L1119.1,563.3 L1119.6,561.9 L1120.0,560.5 L1120.5,559.1 L1121.0,557.6 L1121.5,556.2 L1121.9,554.8 L1122.4,553.4 L1122.9,552.0 L1123.3,550.5 L1123.8,549.1 L1124.3,547.7 L1124.8,546.3 L1125.2,544.8 L1125.7,543.4 L1126.2,542.0 L1126.7,540.6 L1127.1,539.2 L1127.6,537.7 L1128.1,536.3 L1128.6,534.9 L1129.0,533.5 L1129.5,532.1 L1130.0,530.6 L1130.5,529.2 L1131.0,527.8 L1131.4,526.4 L1131.9,525.0 L1132.4,523.5 L1132.9,522.1 L1133.3,520.7 L1133.8,519.3 L1134.3,517.9 L1134.8,516.4 L1135.3,515.0 L1135.7,513.6 L1136.2,512.2 L1136.7,510.8 L1137.2,509.3 L1137.7,507.9 L1138.1,506.5 L1138.6,505.1 L1139.1,503.7 L1139.6,502.2 L1140.1,500.8 L1140.6,499.4 L1141.0,498.0 L1141.5,496.6 L1142.0,495.2 L1142.5,493.7 L1143.0,492.3 L1143.5,490.9 L1143.9,489.5 L1144.4,488.1 L1144.9,486.6 L1145.4,485.2 L1145.9,483.8 L1146.4,482.4 L1146.9,481.0 L1147.4,479.5 L1147.8,478.1 L1148.3,476.7 L1148.8,475.3 L1149.3,473.9 L1149.8,472.5 L1150.3,471.0 L1150.8,469.6 L1151.3,468.2 L1151.8,466.8 L1152.2,465.4 L1152.7,464.0 L1153.2,462.5 L1153.7,461.1 L1154.2,459.7 L1154.7,458.3 L1155.2,456.9 L1155.7,455.5 L1156.2,454.0 L1156.7,452.6 L1157.2,451.2 L1157.7,449.8 L1158.2,448.4 L1158.6,447.0 L1159.1,445.5 L1159.6,444.1 L1160.1,442.7 L1160.6,441.3 L1161.1,439.9 L1161.6,438.5 L1162.1,437.0 L1162.6,435.6 L1163.1,434.2 L1163.6,432.8 L1164.1,431.4 L1164.6,430.0 L1165.1,428.6 L1165.6,427.1 L1166.1,425.7 L1166.6,424.3 L1167.1,422.9 L1167.6,421.5 L1168.1,420.1 L1168.6,418.6 L1169.1,417.2 L1169.6,415.8 L1170.1,414.4 L1170.6,413.0 L1171.1,411.6 L1171.6,410.2 L1172.1,408.7 L1172.6,407.3 L1173.1,405.9 L1173.6,404.5 L1174.1,403.1 L1174.6,401.7 L1175.1,400.2 L1175.6,398.8 L1176.1,397.4 L1176.6,396.0 L1177.1,394.6 L1177.6,393.2 L1178.1,391.8 L1178.6,390.3 L1179.1,388.9 L1179.6,387.5 L1180.1,386.1 L1180.6,384.7 L1181.1,383.3 L1181.6,381.9 L1182.1,380.4 L1182.6,379.0 L1183.1,377.6 L1183.6,376.2 L1184.1,374.8 L1184.6,373.4 L1185.1,372.0 L1185.6,370.5 L1186.1,369.1 L1186.6,367.7 L1187.1,366.3 L1187.6,364.9 L1188.1,363.5 L1188.6,362.1 L1189.1,360.7 L1189.6,359.2 L1190.2,357.8 L1190.7,356.4 L1191.2,355.0 L1191.7,353.6 L1192.2,352.2 L1192.7,350.8 L1193.2,349.3 L1193.7,347.9 L1194.2,346.5 L1194.7,345.1 L1195.2,343.7 L1195.7,342.3 L1196.2,340.9 L1196.7,339.4 L1197.2,338.0 L1197.7,336.6 L1198.2,335.2 L1198.7,333.8 L1199.2,332.4 L1199.8,331.0 L1200.3,329.6 L1200.8,328.1 L1201.3,326.7 L1201.8,325.3 L1202.3,323.9 L1202.8,322.5 L1203.3,321.1 L1203.8,319.7 L1204.3,318.2 L1204.8,316.8 L1205.3,315.4 L1205.8,314.0 L1206.3,312.6 L1206.8,311.2 L1207.3,309.8 L1207.8,308.4 L1208.4,306.9 L1208.9,305.5 L1209.4,304.1 L1209.9,302.7 L1210.4,301.3 L1210.9,299.9 L1211.4,298.5 L1211.9,297.1 L1212.4,295.6 L1212.9,294.2 L1213.4,292.8 L1213.9,291.4 L1214.4,290.0 L1214.9,288.6 L1215.4,287.2 L1215.9,285.7 L1216.5,284.3 L1217.0,282.9 L1217.5,281.5 L1218.0,280.1 L1218.5,278.7 L1219.0,277.3 L1219.5,275.9 L1220.0,274.4 L1220.5,273.0 L1221.0,271.6 L1221.5,270.2 L1222.0,268.8 L1222.5,267.4 L1223.0,266.0 L1223.5,264.5 L1224.0,263.1 L1224.5,261.7 L1225.0,260.3 L1225.5,258.9 L1226.0,257.5 L1226.6,256.1 L1227.1,254.7 L1227.6,253.2 L1228.1,251.8 L1228.6,250.4 L1229.1,249.0 L1229.6,247.6 L1230.1,246.2 L1230.6,244.8 L1231.1,243.3 L1231.6,241.9 L1232.1,240.5 L1232.6,239.1 L1233.1,237.7 L1233.6,236.3 L1234.1,234.9 L1234.6,233.4 L1235.1,232.0 L1235.6,230.6 L1236.1,229.2 L1236.6,227.8 L1237.1,226.4 L1237.6,225.0 L1238.1,223.6 L1238.6,222.1 L1239.1,220.7 L1239.6,219.3 L1240.1,217.9 L1240.6,216.5 L1241.1,215.1 L1241.6,213.7 L1242.1,212.2 L1242.6,210.8 L1243.1,209.4 L1243.6,208.0 L1244.1,206.6 L1244.6,205.2 L1245.1,203.8 L1245.6,202.3 L1246.1,200.9 L1246.6,199.5 L1247.1,198.1 L1247.6,196.7 L1248.1,195.3 L1248.6,193.9 L1249.1,192.4 L1249.6,191.0 L1250.1,189.6 L1250.6,188.2 L1251.1,186.8 L1251.6,185.4 L1252.1,183.9 L1252.6,182.5 L1253.1,181.1 L1253.6,179.7 L1254.1,178.3 L1254.6,176.9 L1255.1,175.5 L1255.6,174.0 L1256.1,172.6 L1256.6,171.2 L1257.1,169.8 L1257.6,168.4 L1258.1,167.0 L1258.6,165.6 L1259.0,164.1 L1259.5,162.7 L1260.0,161.3 L1260.5,159.9 L1261.0,158.5 L1261.5,157.1 L1262.0,155.6 L1262.5,154.2 L1263.0,152.8 L1263.5,151.4 L1264.0,150.0 L1264.5,148.6 L1264.9,147.1 L1265.4,145.7 L1265.9,144.3 L1266.4,142.9 L1266.9,141.5 L1267.4,140.1 L1267.9,138.6 L1268.4,137.2 L1268.9,135.8 L1269.3,134.4 L1269.8,133.0 L1270.3,131.6 L1270.8,130.1 L1271.3,128.7 L1271.8,127.3 L1272.3,125.9 L1272.8,124.5 L1273.2,123.1 L1273.7,121.6 L1274.2,120.2 L1274.7,118.8 L1275.2,117.4 L1275.7,116.0 L1276.1,114.5 L1276.6,113.1 L1277.1,111.7 L1277.6,110.3 L1278.1,108.9 L1278.6,107.5 L1279.0,106.0 L1279.5,104.6 L1280.0,103.2 L1280.5,101.8 L1281.0,100.4 L1281.4,98.9 L1281.9,97.5 L1282.4,96.1 L1282.9,94.7 L1283.4,93.3 L1283.8,91.9 L1284.3,90.4 L1284.8,89.0 L1285.3,87.6 L1285.7,86.2 L1286.2,84.8 L1286.7,83.3 L1287.2,81.9 L1287.6,80.5 L1288.1,79.1 L1288.6,77.7 L1289.1,76.2 L1289.5,74.8 L1290.0,73.4 L1290.5,72.0 L1291.0,70.6 L1291.4,69.1 L1291.9,67.7 L1292.4,66.3 L1292.8,64.9 L1293.3,63.5 L1293.8,62.0 L1294.2,60.6 L1294.7,59.2 L1295.2,57.8 L1295.6,56.3 L1296.1,54.9 L1296.6,53.5 L1297.0,52.1 L1297.5,50.7 L1298.0,49.2 L1298.4,47.8 L1298.9,46.4 L1299.4,45.0 L1299.8,43.6 L1300.3,42.1 L1300.8,40.7 L1301.2,39.3 L1301.7,37.9 L1302.1,36.4 L1302.6,35.0"/>
<path stroke="#0000FF" d="M493.3,1378.8 L493.5,1377.4 L493.7,1375.9 L493.9,1374.4 L494.1,1372.9 L494.4,1371.5 L494.6,1370.0 L494.9,1368.5 L495.1,1367.0 L495.4,1365.6 L495.7,1364.1 L496.0,1362.7 L496.3,1361.2 L496.7,1359.7 L497.0,1358.3 L497.3,1356.8 L497.7,1355.4 L498.1,1354.0 L498.4,1352.5 L498.8,1351.1 L499.2,1349.6 L499.6,1348.2 L500.1,1346.8 L500.5,1345.3 L500.9,1343.9 L501.4,1342.5 L501.9,1341.1 L502.3,1339.7 L502.8,1338.3 L503.3,1336.9 L503.8,1335.5 L504.3,1334.1 L504.8,1332.7 L505.4,1331.3 L505.9,1329.9 L506.4,1328.5 L507.0,1327.1 L507.6,1325.7 L508.1,1324.3 L508.7,1323.0 L509.3,1321.6 L509.9,1320.2 L510.5,1318.9 L511.2,1317.5 L511.8,1316.2 L512.4,1314.8 L513.1,1313.5 L513.7,1312.1 L514.4,1310.8 L515.1,1309.5 L515.8,1308.1 L516.5,1306.8 L517.2,1305.5 L517.9,1304.2 L518.6,1302.8 L519.3,1301.5 L520.1,1300.2 L520.8,1298.9 L521.6,1297.6 L522.3,1296.3 L523.1,1295.1 L523.9,1293.8 L524.7,1292.5 L525.4,1291.2 L526.2,1289.9 L527.1,1288.7 L527.9,1287.4 L528.7,1286.2 L529.5,1284.9 L530.4,1283.7 L531.2,1282.4 L532.1,1281.2 L532.9,1280.0 L533.8,1278.7 L534.7,1277.5 L535.6,1276.3 L536.5,1275.1 L537.4,1273.9 L538.3,1272.7 L539.2,1271.5 L540.1,1270.3 L541.0,1269.1 L542.0,1267.9 L542.9,1266.7 L543.8,1265.6 L544.8,1264.4 L545.8,1263.2 L546.7,1262.1 L547.7,1260.9 L548.7,1259.8 L549.7,1258.7 L550.7,1257.5 L551.7,1256.4 L552.7,1255.3 L553.7,1254.2 L554.7,1253.0 L555.7,1251.9 L556.8,1250.8 L557.8,1249.8 L558.8,1248.7 L559.9,1247.6 L560.9,1246.5 L562.0,1245.4 L563.1,1244.4 L564.1,1243.3 L565.2,1242.3 L566.3,1241.2 L567.4,1240.2 L568.5,1239.2 L569.6,1238.1 L570.7,1237.1 L571.8,1236.1 L572.9,1235.1 L574.0,1234.1 L575.2,1233.1 L576.3,1232.1 L577.4,1231.1 L578.6,1230.1 L579.7,1229.2 L580.9,1228.2 L582.0,1227.3 L583.2,1226.3 L584.4,1225.4 L585.5,1224.4 L586.7,1223.5 L587.9,1222.6 L589.1,1221.7 L590.3,1220.8 L591.5,1219.9 L592.7,1219.0 L593.9,1218.1 L595.1,1217.2 L596.3,1216.3 L597.5,1215.4 L598.7,1214.6 L600.0,1213.7 L601.2,1212.9 L602.4,1212.0 L603.7,1211.2 L604.9,1210.4 L606.1,1209.5 L607.4,1208.7 L608.7,1207.9 L609.9,1207.1 L611.2,1206.3 L612.4,1205.5 L613.7,1204.7 L615.0,1203.9 L616.3,1203.2 L617.5,1202.4 L618.8,1201.7 L620.1,1200.9 L621.4,1200.2 L622.7,1199.4 L624.0,1198.7 L625.3,1198.0 L626.6,1197.2 L628.0,1196.5 L629.3,1195.8 L630.6,1195.1 L631.9,1194.4 L633.2,1193.7 L634.6,1193.1 L635.9,1192.4 L637.2,1191.7 L638.6,1191.1 L639.9,1190.4 L641.3,1189.8 L642.6,1189.1 L644.0,1188.5 L645.3,1187.9 L646.7,1187.2 L648.1,1186.6 L649.4,1186.0 L650.8,1185.4 L652.2,1184.8 L653.5,1184.2 L654.9,1183.7 L656.3,1183.1 L657.7,1182.5 L659.1,1182.0 L660.5,1181.4 L661.8,1180.9 L663.2,1180.3 L664.6,1179.8 L666.0,1179.3 L667.4,1178.7 L668.8,1178.2 L670.3,1177.7 L671.7,1177.2 L673.1,1176.7 L674.5,1176.2 L675.9,1175.7 L677.3,1175.3 L678.7,1174.8 L680.2,1174.3 L681.6,1173.9 L683.0,1173.4 L684.5,1173.0 L685.9,1172.6 L687.3,1172.1 L688.8,1171.7 L690.2,1171.3 L691.6,1170.9 L693.1,1170.5 L694.5,1170.1 L696.0,1169.7 L697.4,1169.3 L698.9,1169.0 L700.3,1168.6 L701.8,1168.2 L703.2,1167.9 L704.7,1167.5 L706.2,1167.2 L707.6,1166.8 L709.1,1166.5 L710.5,1166.2 L712.0,1165.9 L713.5,1165.6 L714.9,1165.3 L716.4,1165.0 L717.9,1164.7 L719.4,1164.4 L720.8,1164.1 L722.3,1163.9 L723.8,1163.6 L725.3,1163.3 L726.7,1163.1 L728.2,1162.9 L729.7,1162.6 L731.2,1162.4 L732.7,1162.2 L734.2,1162.0 L735.6,1161.7 L737.1,1161.5 L738.6,1161.3 L740.1,1161.2 L741.6,1161.0 L743.1,1160.8 L744.6,1160.6 L746.1,1160.5 L747.6,1160.3 L749.1,1160.2 L750.5,1160.0 L752.0,1159.9 L753.5,1159.8 L755.0,1159.6 L756.5,1159.5 L758.0,1159.4 L759.5,1159.3 L761.0,1159.2 L762.5,1159.1 L764.0,1159.1 L765.5,1159.0 L767.0,1158.9 L768.5,1158.9 L770.0,1158.8 L771.5,1158.8 L773.0,1158.7 L774.5,1158.7 L776.0,1158.6 L777.5,1158.6 L779.0,1158.6 L780.5,1158.6 L782.0,1158.6 L783.5,1158.6 L785.0,1158.6 L786.5,1158.6 L788.0,1158.7 L789.5,1158.7 L791.0,1158.7 L792.5,1158.8 L794.0,1158.8 L795.5,1158.9 L797.0,1159.0 L798.4,1159.0 L799.9,1159.1 L801.4,1159.2 L802.9,1159.3 L804.4,1159.4 L805.9,1159.5 L807.4,1159.6 L808.9,1159.7 L810.4,1159.9 L811.9,1160.0 L813.4,1160.1 L814.9,1160.2 L816.4,1160.4 L817.8,1160.5 L819.3,1160.7 L820.8,1160.8 L822.3,1161.0 L823.8,1161.1 L825.3,1161.3 L826.8,1161.4 L828.3,1161.6 L829.8,1161.7 L831.3,1161.9 L832.8,1162.1 L834.3,1162.2 L835.8,1162.4 L837.2,1162.5 L838.7,1162.7 L840.2,1162.9 L841.7,1163.0 L843.2,1163.2 L844.7,1163.3 L846.2,1163.5 L847.7,1163.6 L849.2,1163.8 L850.7,1163.9 L852.2,1164.0 L853.7,1164.2 L855.3,1164.3 L856.8,1164.4 L858.3,1164.6 L859.8,1164.7 L861.3,1164.8 L862.8,1164.9 L864.3,1165.0 L865.8,1165.1 L867.4,1165.2 L868.9,1165.3 L870.4,1165.3 L871.9,1165.4 L873.4,1165.5 L875.0,1165.5 L876.5,1165.6 L878.0,1165.6 L879.6,1165.6 L881.1,1165.6 L882.6,1165.7 L884.2,1165.7 L885.7,1165.6 L887.2,1165.6 L888.8,1165.6 L890.3,1165.5 L891.8,1165.5 L893.4,1165.4 L894.9,1165.3 L896.4,1165.2 L898.0,1165.1 L899.5,1164.9 L901.0,1164.8 L902.5,1164.6 L904.0,1164.4 L905.5,1164.2 L907.0,1164.0 L908.4,1163.7 L909.9,1163.4 L911.4,1163.2 L912.8,1162.8 L914.3,1162.5 L915.7,1162.1 L917.1,1161.7 L918.5,1161.3 L919.9,1160.9 L921.3,1160.4 L922.6,1159.9 L924.0,1159.4 L925.3,1158.8 L926.6,1158.3 L927.9,1157.7 L929.2,1157.0 L930.5,1156.3 L931.7,1155.6 L933.0,1154.9 L934.2,1154.1 L935.4,1153.3 L936.6,1152.5 L937.7,1151.7 L938.9,1150.8 L940.0,1149.9 L941.1,1148.9 L942.2,1148.0 L943.3,1147.0 L944.3,1146.0 L945.4,1145.0 L946.4,1143.9 L947.5,1142.9 L948.5,1141.8 L949.5,1140.7 L950.5,1139.6 L951.4,1138.4 L952.4,1137.3 L953.3,1136.1 L954.3,1135.0 L955.2,1133.8 L956.1,1132.6 L957.0,1131.4 L957.9,1130.1 L958.8,1128.9 L959.6,1127.7 L960.5,1126.4 L961.4,1125.2 L962.2,1123.9 L963.0,1122.6 L963.9,1121.4 L964.7,1120.1 L965.5,1118.8 L966.3,1117.6 L967.1,1116.3 L967.9,1115.0 L968.7,1113.7 L969.4,1112.4 L970.2,1111.1 L971.0,1109.8 L971.7,1108.5 L972.5,1107.2 L973.2,1105.9 L973.9,1104.6 L974.6,1103.3 L975.4,1102.0 L976.1,1100.6 L976.8,1099.3 L977.5,1098.0 L978.1,1096.6 L978.8,1095.3 L979.5,1094.0 L980.2,1092.6 L980.8,1091.3 L981.5,1090.0 L982.1,1088.6 L982.8,1087.3 L983.4,1085.9 L984.1,1084.5 L984.7,1083.2 L985.3,1081.8 L985.9,1080.5 L986.5,1079.1 L987.1,1077.7 L987.7,1076.4 L988.3,1075.0 L988.9,1073.6 L989.5,1072.2 L990.1,1070.9 L990.7,1069.5 L991.2,1068.1 L991.8,1066.7 L992.4,1065.3 L992.9,1063.9 L993.5,1062.5 L994.0,1061.1 L994.6,1059.8 L995.1,1058.4 L995.7,1057.0 L996.2,1055.6 L996.7,1054.2 L997.2,1052.8 L997.8,1051.3 L998.3,1049.9 L998.8,1048.5 L999.3,1047.1 L999.8,1045.7 L1000.3,1044.3 L1000.8,1042.9 L1001.3,1041.5 L1001.8,1040.1 L1002.3,1038.6 L1002.8,1037.2 L1003.3,1035.8 L1003.8,1034.4 L1004.3,1033.0 L1004.8,1031.5 L1005.2,1030.1 L1005.7,1028.7 L1006.2,1027.3 L1006.7,1025.8 L1007.1,1024.4 L1007.6,1023.0 L1008.1,1021.5 L1008.5,1020.1 L1009.0,1018.7 L1009.5,1017.3 L1009.9,1015.8 L1010.4,1014.4 L1010.9,1013.0 L1011.3,1011.5 L1011.8,1010.1 L1012.2,1008.7 L1012.7,1007.2 L1013.2,1005.8 L1013.6,1004.4 L1014.1,1002.9 L1014.5,1001.5 L1015.0,1000.1 L1015.4,998.6 L1015.9,997.2 L1016.3,995.8 L1016.8,994.3 L1017.2,992.9 L1017.7,991.5 L1018.1,990.0 L1018.6,988.6 L1019.0,987.2 L1019.5,985.7 L1020.0,984.3 L1020.4,982.9 L1020.9,981.4 L1021.3,980.0 L1021.8,978.5 L1022.2,977.1 L1022.7,975.7 L1023.1,974.2 L1023.6,972.8 L1024.0,971.4 L1024.5,969.9 L1024.9,968.5 L1025.3,967.1 L1025.8,965.6 L1026.2,964.2 L1026.7,962.8 L1027.1,961.3 L1027.6,959.9 L1028.0,958.5 L1028.5,957.0 L1028.9,955.6 L1029.4,954.2 L1029.8,952.7 L1030.3,951.3 L1030.7,949.9 L1031.2,948.4 L1031.6,947.0 L1032.0,945.6 L1032.5,944.1 L1032.9,942.7 L1033.4,941.2 L1033.8,939.8 L1034.3,938.4 L1034.7,936.9 L1035.2,935.5 L1035.6,934.1 L1036.0,932.6 L1036.5,931.2 L1036.9,929.8 L1037.4,928.3 L1037.8,926.9 L1038.3,925.5 L1038.7,924.0 L1039.1,922.6 L1039.6,921.2 L1040.0,919.7 L1040.5,918.3 L1040.9,916.9 L1041.3,915.4 L1041.8,914.0 L1042.2,912.5 L1042.7,911.1 L1043.1,909.7 L1043.5,908.2 L1044.0,906.8 L1044.4,905.4 L1044.9,903.9 L1045.3,902.5 L1045.7,901.1 L1046.2,899.6 L1046.6,898.2 L1047.1,896.8 L1047.5,895.3 L1047.9,893.9 L1048.4,892.5 L1048.8,891.0 L1049.3,889.6 L1049.7,888.1 L1050.1,886.7 L1050.6,885.3 L1051.0,883.8 L1051.4,882.4 L1051.9,881.0 L1052.3,879.5 L1052.7,878.1 L1053.2,876.7 L1053.6,875.2 L1054.1,873.8 L1054.5,872.4 L1054.9,870.9 L1055.4,869.5 L1055.8,868.0 L1056.2,866.6 L1056.7,865.2 L1057.1,863.7 L1057.5,862.3 L1058.0,860.9 L1058.4,859.4 L1058.8,858.0 L1059.3,856.6 L1059.7,855.1 L1060.1,853.7 L1060.6,852.3 L1061.0,850.8 L1061.4,849.4 L1061.9,847.9 L1062.3,846.5 L1062.7,845.1 L1063.2,843.6 L1063.6,842.2 L1064.0,840.8 L1064.5,839.3 L1064.9,837.9 L1065.3,836.5 L1065.8,835.0 L1066.2,833.6 L1066.6,832.2 L1067.1,830.7 L1067.5,829.3 L1067.9,827.8 L1068.4,826.4 L1068.8,825.0 L1069.2,823.5 L1069.6,822.1 L1070.1,820.7 L1070.5,819.2 L1070.9,817.8 L1071.4,816.4 L1071.8,814.9 L1072.2,813.5 L1072.7,812.0 L1073.1,810.6 L1073.5,809.2 L1074.0,807.7 L1074.4,806.3 L1074.8,804.9 L1075.2,803.4 L1075.7,802.0 L1076.1,800.6 L1076.5,799.1 L1077.0,797.7 L1077.4,796.2 L1077.8,794.8 L1078.2,793.4 L1078.7,791.9 L1079.1,790.5 L1079.5,789.1 L1080.0,787.6 L1080.4,786.2 L1080.8,784.8 L1081.2,783.3 L1081.7,781.9 L1082.1,780.5 L1082.5,779.0 L1083.0,777.6 L1083.4,776.1 L1083.8,774.7 L1084.2,773.3 L1084.7,771.8 L1085.1,770.4 L1085.5,769.0 L1086.0,767.5 L1086.4,766.1 L1086.8,764.7 L1087.2,763.2 L1087.7,761.8 L1088.1,760.3 L1088.5,758.9 L1088.9,757.5 L1089.4,756.0 L1089.8,754.6 L1090.2,753.2 L1090.7,751.7 L1091.1,750.3 L1091.5,748.9 L1091.9,747.4 L1092.4,746.0 L1092.8,744.5 L1093.2,743.1 L1093.6,741.7 L1094.1,740.2 L1094.5,738.8 L1094.9,737.4 L1095.4,735.9 L1095.8,734.5 L1096.2,733.1 L1096.6,731.6 L1097.1,730.2 L1097.5,728.8 L1097.9,727.3 L1098.3,725.9 L1098.8,724.4 L1099.2,723.0 L1099.6,721.6 L1100.0,720.1 L1100.5,718.7 L1100.9,717.3 L1101.3,715.8 L1101.7,714.4 L1102.2,713.0 L1102.6,711.5 L1103.0,710.1 L1103.5,708.6 L1103.9,707.2 L1104.3,705.8 L1104.7,704.3 L1105.2,702.9 L1105.6,701.5 L1106.0,700.0 L1106.4,698.6 L1106.9,697.2 L1107.3,695.7 L1107.7,694.3 L1108.1,692.8 L1108.6,691.4 L1109.0,690.0 L1109.4,688.5 L1109.8,687.1 L1110.3,685.7 L1110.7,684.2 L1111.1,682.8 L1111.5,681.4 L1112.0,679.9 L1112.4,678.5 L1112.8,677.1 L1113.2,675.6 L1113.7,674.2 L1114.1,672.7 L1114.5,671.3 L1115.0,669.9 L1115.4,668.4 L1115.8,667.0 L1116.2,665.6 L1116.7,664.1 L1117.1,662.7 L1117.5,661.3 L1117.9,659.8 L1118.4,658.4 L1118.8,657.0 L1119.2,655.5 L1119.6,654.1 L1120.1,652.6 L1120.5,651.2 L1120.9,649.8 L1121.3,648.3 L1121.8,646.9 L1122.2,645.5 L1122.6,644.0 L1123.1,642.6 L1123.5,641.2 L1123.9,639.7 L1124.3,638.3 L1124.8,636.9 L1125.2,635.4 L1125.6,634.0 L1126.0,632.5 L1126.5,631.1 L1126.9,629.7 L1127.3,628.2 L1127.7,626.8 L1128.2,625.4 L1128.6,623.9 L1129.0,622.5 L1129.5,621.1 L1129.9,619.6 L1130.3,618.2 L1130.7,616.8 L1131.2,615.3 L1131.6,613.9 L1132.0,612.4 L1132.4,611.0 L1132.9,609.6 L1133.3,608.1 L1133.7,606.7 L1134.2,605.3 L1134.6,603.8 L1135.0,602.4 L1135.4,601.0 L1135.9,599.5 L1136.3,598.1 L1136.7,596.7 L1137.2,595.2 L1137.6,593.8 L1138.0,592.4 L1138.4,590.9 L1138.9,589.5 L1139.3,588.0 L1139.7,586.6 L1140.2,585.2 L1140.6,583.7 L1141.0,582.3 L1141.5,580.9 L1141.9,579.4 L1142.3,578.0 L1142.7,576.6 L1143.2,575.1 L1143.6,573.7 L1144.0,572.3 L1144.5,570.8 L1144.9,569.4 L1145.3,568.0 L1145.8,566.5 L1146.2,565.1 L1146.6,563.7 L1147.0,562.2 L1147.5,560.8 L1147.9,559.4 L1148.3,557.9 L1148.8,556.5 L1149.2,555.0 L1149.6,553.6 L1150.1,552.2 L1150.5,550.7 L1150.9,549.3 L1151.4,547.9 L1151.8,546.4 L1152.2,545.0 L1152.7,543.6 L1153.1,542.1 L1153.5,540.7 L1154.0,539.3 L1154.4,537.8 L1154.8,536.4 L1155.3,535.0 L1155.7,533.5 L1156.1,532.1 L1156.6,530.7 L1157.0,529.2 L1157.4,527.8 L1157.9,526.4 L1158.3,524.9 L1158.7,523.5 L1159.2,522.1 L1159.6,520.6 L1160.0,519.2 L1160.5,517.8 L1160.9,516.3 L1161.3,514.9 L1161.8,513.4 L1162.2,512.0 L1162.6,510.6 L1163.1,509.1 L1163.5,507.7 L1163.9,506.3 L1164.4,504.8 L1164.8,503.4 L1165.3,502.0 L1165.7,500.5 L1166.1,499.1 L1166.6,497.7 L1167.0,496.2 L1167.4,494.8 L1167.9,493.4 L1168.3,491.9 L1168.7,490.5 L1169.2,489.1 L1169.6,487.6 L1170.1,486.2 L1170.5,484.8 L1170.9,483.3 L1171.4,481.9 L1171.8,480.5 L1172.3,479.0 L1172.7,477.6 L1173.1,476.2 L1173.6,474.7 L1174.0,473.3 L1174.5,471.9 L1174.9,470.4 L1175.3,469.0 L1175.8,467.6 L1176.2,466.1 L1176.7,464.7 L1177.1,463.3 L1177.5,461.8 L1178.0,460.4 L1178.4,459.0 L1178.9,457.5 L1179.3,456.1 L1179.7,454.7 L1180.2,453.2 L1180.6,451.8 L1181.1,450.4 L1181.5,448.9 L1181.9,447.5 L1182.4,446.1 L1182.8,444.6 L1183.3,443.2 L1183.7,441.8 L1184.2,440.3 L1184.6,438.9 L1185.0,437.5 L1185.5,436.0 L1185.9,434.6 L1186.4,433.2 L1186.8,431.7 L1187.3,430.3 L1187.7,428.9 L1188.1,427.5 L1188.6,426.0 L1189.0,424.6 L1189.5,423.2 L1189.9,421.7 L1190.4,420.3 L1190.8,418.9 L1191.3,417.4 L1191.7,416.0 L1192.1,414.6 L1192.6,413.1 L1193.0,411.7 L1193.5,410.3 L1193.9,408.8 L1194.4,407.4 L1194.8,406.0 L1195.3,404.5 L1195.7,403.1 L1196.1,401.7 L1196.6,400.2 L1197.0,398.8 L1197.5,397.4 L1197.9,395.9 L1198.4,394.5 L1198.8,393.1 L1199.3,391.6 L1199.7,390.2 L1200.2,388.8 L1200.6,387.3 L1201.0,385.9 L1201.5,384.5 L1201.9,383.0 L1202.4,381.6 L1202.8,380.2 L1203.3,378.8 L1203.7,377.3 L1204.2,375.9 L1204.6,374.5 L1205.1,373.0 L1205.5,371.6 L1206.0,370.2 L1206.4,368.7 L1206.9,367.3 L1207.3,365.9 L1207.7,364.4 L1208.2,363.0 L1208.6,361.6 L1209.1,360.1 L1209.5,358.7 L1210.0,357.3 L1210.4,355.8 L1210.9,354.4 L1211.3,353.0 L1211.8,351.5 L1212.2,350.1 L1212.7,348.7 L1213.1,347.2 L1213.6,345.8 L1214.0,344.4 L1214.5,343.0 L1214.9,341.5 L1215.4,340.1 L1215.8,338.7 L1216.3,337.2 L1216.7,335.8 L1217.1,334.4 L1217.6,332.9 L1218.0,331.5 L1218.5,330.1 L1218.9,328.6 L1219.4,327.2 L1219.8,325.8 L1220.3,324.3 L1220.7,322.9 L1221.2,321.5 L1221.6,320.0 L1222.1,318.6 L1222.5,317.2 L1223.0,315.7 L1223.4,314.3 L1223.9,312.9 L1224.3,311.5 L1224.8,310.0 L1225.2,308.6 L1225.7,307.2 L1226.1,305.7 L1226.6,304.3 L1227.0,302.9 L1227.5,301.4 L1227.9,300.0 L1228.4,298.6 L1228.8,297.1 L1229.2,295.7 L1229.7,294.3 L1230.1,292.8 L1230.6,291.4 L1231.0,290.0 L1231.5,288.5 L1231.9,287.1 L1232.4,285.7 L1232.8,284.3 L1233.3,282.8 L1233.7,281.4 L1234.2,280.0 L1234.6,278.5 L1235.1,277.1 L1235.5,275.7 L1236.0,274.2 L1236.4,272.8 L1236.9,271.4 L1237.3,269.9 L1237.8,268.5 L1238.2,267.1 L1238.7,265.6 L1239.1,264.2 L1239.6,262.8 L1240.0,261.3 L1240.5,259.9 L1240.9,258.5 L1241.4,257.1 L1241.8,255.6 L1242.2,254.2 L1242.7,252.8 L1243.1,251.3 L1243.6,249.9 L1244.0,248.5 L1244.5,247.0 L1244.9,245.6 L1245.4,244.2 L1245.8,242.7 L1246.3,241.3 L1246.7,239.9 L1247.2,238.4 L1247.6,237.0 L1248.1,235.6 L1248.5,234.1 L1249.0,232.7 L1249.4,231.3 L1249.9,229.8 L1250.3,228.4 L1250.7,227.0 L1251.2,225.6 L1251.6,224.1 L1252.1,222.7 L1252.5,221.3 L1253.0,219.8 L1253.4,218.4 L1253.9,217.0 L1254.3,215.5 L1254.8,214.1 L1255.2,212.7 L1255.7,211.2 L1256.1,209.8 L1256.6,208.4 L1257.0,206.9 L1257.4,205.5 L1257.9,204.1 L1258.3,202.6 L1258.8,201.2 L1259.2,199.8 L1259.7,198.4 L1260.1,196.9 L1260.6,195.5 L1261.0,194.1 L1261.5,192.6 L1261.9,191.2 L1262.4,189.8 L1262.8,188.3 L1263.2,186.9 L1263.7,185.5 L1264.1,184.0 L1264.6,182.6 L1265.0,181.2 L1265.5,179.7 L1265.9,178.3 L1266.4,176.9 L1266.8,175.4 L1267.2,174.0 L1267.7,172.6 L1268.1,171.1 L1268.6,169.7 L1269.0,168.3 L1269.5,166.8 L1269.9,165.4 L1270.4,164.0 L1270.8,162.6 L1271.2,161.1 L1271.7,159.7 L1272.1,158.3 L1272.6,156.8 L1273.0,155.4 L1273.5,154.0 L1273.9,152.5 L1274.3,151.1 L1274.8,149.7 L1275.2,148.2 L1275.7,146.8 L1276.1,145.4 L1276.6,143.9 L1277.0,142.5 L1277.4,141.1 L1277.9,139.6 L1278.3,138.2 L1278.8,136.8 L1279.2,135.3 L1279.6,133.9 L1280.1,132.5 L1280.5,131.0 L1281.0,129.6 L1281.4,128.2 L1281.8,126.7 L1282.3,125.3 L1282.7,123.9 L1283.2,122.4 L1283.6,121.0 L1284.1,119.6 L1284.5,118.2 L1284.9,116.7 L1285.4,115.3 L1285.8,113.9 L1286.2,112.4 L1286.7,111.0 L1287.1,109.6 L1287.6,108.1 L1288.0,106.7 L1288.4,105.3 L1288.9,103.8 L1289.3,102.4 L1289.8,101.0 L1290.2,99.5 L1290.6,98.1 L1291.1,96.7 L1291.5,95.2 L1291.9,93.8 L1292.4,92.4 L1292.8,90.9 L1293.3,89.5 L1293.7,88.1 L1294.1,86.6 L1294.6,85.2 L1295.0,83.8 L1295.4,82.3 L1295.9,80.9 L1296.3,79.5 L1296.7,78.0 L1297.2,76.6 L1297.6,75.2 L1298.0,73.7 L1298.5,72.3 L1298.9,70.9 L1299.4,69.4 L1299.8,68.0 L1300.2,66.6 L1300.7,65.1 L1301.1,63.7 L1301.5,62.3 L1302.0,60.8 L1302.4,59.4 L1302.8,58.0 L1303.3,56.5 L1303.7,55.1 L1304.1,53.7 L1304.6,52.2 L1305.0,50.8 L1305.4,49.4 L1305.8,47.9 L1306.3,46.5 L1306.7,45.1 L1307.1,43.6 L1307.6,42.2 L1308.0,40.8 L1308.4,39.3 L1308.9,37.9 L1309.3,36.5 L1309.7,35.0"/>
<path stroke="#008000" d="M493.7,1379.2 L493.8,1377.6 L493.9,1376.1 L494.1,1374.5 L494.2,1373.0 L494.4,1371.5 L494.6,1369.9 L494.8,1368.4 L495.0,1366.9 L495.3,1365.4 L495.5,1363.9 L495.8,1362.4 L496.0,1360.9 L496.3,1359.5 L496.7,1358.0 L497.0,1356.5 L497.3,1355.1 L497.7,1353.6 L498.0,1352.2 L498.4,1350.7 L498.8,1349.3 L499.2,1347.8 L499.6,1346.4 L500.0,1345.0 L500.5,1343.6 L500.9,1342.2 L501.4,1340.8 L501.9,1339.4 L502.4,1338.0 L502.9,1336.6 L503.4,1335.2 L503.9,1333.8 L504.5,1332.4 L505.0,1331.0 L505.6,1329.7 L506.1,1328.3 L506.7,1327.0 L507.3,1325.6 L507.9,1324.2 L508.5,1322.9 L509.1,1321.5 L509.8,1320.2 L510.4,1318.9 L511.1,1317.5 L511.7,1316.2 L512.4,1314.9 L513.1,1313.6 L513.7,1312.2 L514.4,1310.9 L515.1,1309.6 L515.8,1308.3 L516.6,1307.0 L517.3,1305.7 L518.0,1304.4 L518.7,1303.1 L519.5,1301.8 L520.2,1300.5 L521.0,1299.2 L521.8,1297.9 L522.5,1296.6 L523.3,1295.4 L524.1,1294.1 L524.9,1292.8 L525.7,1291.5 L526.5,1290.3 L527.3,1289.0 L528.1,1287.8 L529.0,1286.5 L529.8,1285.2 L530.7,1284.0 L531.5,1282.8 L532.4,1281.5 L533.2,1280.3 L534.1,1279.0 L535.0,1277.8 L535.9,1276.6 L536.7,1275.4 L537.6,1274.2 L538.5,1273.0 L539.5,1271.7 L540.4,1270.5 L541.3,1269.4 L542.2,1268.2 L543.2,1267.0 L544.1,1265.8 L545.0,1264.6 L546.0,1263.4 L547.0,1262.3 L547.9,1261.1 L548.9,1260.0 L549.9,1258.8 L550.9,1257.7 L551.9,1256.5 L552.9,1255.4 L553.9,1254.2 L554.9,1253.1 L555.9,1252.0 L556.9,1250.9 L557.9,1249.8 L559.0,1248.7 L560.0,1247.6 L561.0,1246.5 L562.1,1245.4 L563.2,1244.3 L564.2,1243.3 L565.3,1242.2 L566.4,1241.1 L567.4,1240.1 L568.5,1239.0 L569.6,1238.0 L570.7,1237.0 L571.8,1235.9 L572.9,1234.9 L574.0,1233.9 L575.2,1232.9 L576.3,1231.9 L577.4,1230.9 L578.5,1229.9 L579.7,1228.9 L580.8,1228.0 L582.0,1227.0 L583.1,1226.0 L584.3,1225.1 L585.5,1224.2 L586.6,1223.2 L587.8,1222.3 L589.0,1221.4 L590.2,1220.5 L591.4,1219.6 L592.6,1218.7 L593.8,1217.8 L595.0,1216.9 L596.2,1216.0 L597.4,1215.1 L598.6,1214.3 L599.9,1213.4 L601.1,1212.6 L602.3,1211.8 L603.6,1210.9 L604.8,1210.1 L606.1,1209.3 L607.3,1208.5 L608.6,1207.7 L609.8,1206.9 L611.1,1206.1 L612.4,1205.3 L613.6,1204.6 L614.9,1203.8 L616.2,1203.1 L617.5,1202.3 L618.8,1201.6 L620.1,1200.8 L621.4,1200.1 L622.7,1199.4 L624.0,1198.7 L625.3,1198.0 L626.6,1197.3 L627.9,1196.6 L629.3,1195.9 L630.6,1195.3 L631.9,1194.6 L633.3,1193.9 L634.6,1193.3 L636.0,1192.6 L637.3,1192.0 L638.6,1191.4 L640.0,1190.8 L641.4,1190.1 L642.7,1189.5 L644.1,1188.9 L645.5,1188.4 L646.8,1187.8 L648.2,1187.2 L649.6,1186.6 L651.0,1186.1 L652.3,1185.5 L653.7,1185.0 L655.1,1184.4 L656.5,1183.9 L657.9,1183.4 L659.3,1182.9 L660.7,1182.3 L662.1,1181.8 L663.5,1181.3 L664.9,1180.9 L666.3,1180.4 L667.8,1179.9 L669.2,1179.4 L670.6,1179.0 L672.0,1178.5 L673.4,1178.1 L674.9,1177.6 L676.3,1177.2 L677.7,1176.8 L679.2,1176.4 L680.6,1176.0 L682.1,1175.6 L683.5,1175.2 L684.9,1174.8 L686.4,1174.4 L687.8,1174.0 L689.3,1173.7 L690.7,1173.3 L692.2,1173.0 L693.7,1172.6 L695.1,1172.3 L696.6,1171.9 L698.0,1171.6 L699.5,1171.3 L701.0,1171.0 L702.4,1170.7 L703.9,1170.4 L705.4,1170.1 L706.9,1169.8 L708.3,1169.6 L709.8,1169.3 L711.3,1169.0 L712.8,1168.8 L714.3,1168.5 L715.7,1168.3 L717.2,1168.1 L718.7,1167.8 L720.2,1167.6 L721.7,1167.4 L723.2,1167.2 L724.7,1167.0 L726.2,1166.8 L727.6,1166.6 L729.1,1166.5 L730.6,1166.3 L732.1,1166.1 L733.6,1166.0 L735.1,1165.8 L736.6,1165.7 L738.1,1165.5 L739.6,1165.4 L741.1,1165.3 L742.6,1165.2 L744.1,1165.1 L745.6,1165.0 L747.1,1164.9 L748.6,1164.8 L750.1,1164.7 L751.6,1164.7 L753.1,1164.6 L754.7,1164.5 L756.2,1164.5 L757.7,1164.4 L759.2,1164.4 L760.7,1164.4 L762.2,1164.3 L763.7,1164.3 L765.2,1164.3 L766.7,1164.3 L768.2,1164.3 L769.7,1164.3 L771.2,1164.3 L772.7,1164.4 L774.2,1164.4 L775.7,1164.4 L777.3,1164.5 L778.8,1164.5 L780.3,1164.6 L781.8,1164.6 L783.3,1164.7 L784.8,1164.8 L786.3,1164.9 L787.8,1165.0 L789.3,1165.1 L790.8,1165.2 L792.3,1165.3 L793.8,1165.4 L795.3,1165.5 L796.8,1165.7 L798.3,1165.8 L799.8,1165.9 L801.3,1166.1 L802.8,1166.2 L804.3,1166.4 L805.8,1166.6 L807.3,1166.8 L808.8,1166.9 L810.2,1167.1 L811.7,1167.3 L813.2,1167.5 L814.7,1167.7 L816.2,1168.0 L817.7,1168.2 L819.2,1168.4 L820.6,1168.6 L822.1,1168.9 L823.6,1169.1 L825.1,1169.4 L826.6,1169.7 L828.0,1169.9 L829.5,1170.2 L831.0,1170.5 L832.4,1170.8 L833.9,1171.1 L835.4,1171.4 L836.8,1171.7 L838.3,1172.0 L839.8,1172.3 L841.2,1172.6 L842.7,1173.0 L844.1,1173.3 L845.6,1173.7 L847.0,1174.0 L848.5,1174.4 L849.9,1174.7 L851.4,1175.1 L852.8,1175.5 L854.2,1175.9 L855.7,1176.3 L857.1,1176.7 L858.5,1177.1 L860.0,1177.5 L861.4,1177.9 L862.8,1178.3 L864.2,1178.8 L865.7,1179.2 L867.1,1179.6 L868.5,1180.1 L869.9,1180.6 L871.3,1181.0 L872.7,1181.5 L874.1,1182.0 L875.5,1182.4 L876.9,1182.9 L878.3,1183.4 L879.7,1183.9 L881.1,1184.4 L882.5,1185.0 L883.9,1185.5 L885.3,1186.0 L886.7,1186.5 L888.1,1187.1 L889.5,1187.6 L890.8,1188.2 L892.2,1188.8 L893.6,1189.3 L895.0,1189.9 L896.3,1190.5 L897.7,1191.1 L899.1,1191.7 L900.4,1192.3 L901.8,1192.9 L903.1,1193.5 L904.5,1194.1 L905.9,1194.8 L907.2,1195.4 L908.6,1196.0 L909.9,1196.7 L911.2,1197.3 L912.6,1198.0 L913.9,1198.7 L915.3,1199.4 L916.6,1200.0 L917.9,1200.7 L919.3,1201.4 L920.6,1202.1 L921.9,1202.9 L923.3,1203.6 L924.6,1204.3 L925.9,1205.0 L927.2,1205.8 L928.6,1206.5 L929.9,1207.2 L931.2,1208.0 L932.5,1208.7 L933.9,1209.4 L935.2,1210.1 L936.5,1210.8 L937.9,1211.5 L939.2,1212.2 L940.6,1212.8 L941.9,1213.5 L943.3,1214.1 L944.7,1214.7 L946.0,1215.3 L947.4,1215.9 L948.8,1216.4 L950.2,1216.9 L951.6,1217.4 L953.1,1217.9 L954.5,1218.3 L956.0,1218.7 L957.4,1219.1 L958.9,1219.4 L960.4,1219.7 L961.8,1219.9 L963.3,1220.0 L964.8,1220.1 L966.3,1220.1 L967.8,1220.1 L969.2,1219.9 L970.7,1219.7 L972.2,1219.4 L973.6,1219.0 L975.0,1218.5 L976.4,1217.9 L977.8,1217.3 L979.2,1216.6 L980.5,1215.8 L981.8,1215.0 L983.0,1214.1 L984.2,1213.3 L985.4,1212.3 L986.5,1211.4 L987.5,1210.4 L988.5,1209.3 L989.5,1208.3 L990.4,1207.2 L991.3,1206.1 L992.2,1204.9 L993.0,1203.7 L993.8,1202.5 L994.6,1201.3 L995.3,1200.1 L996.0,1198.8 L996.7,1197.5 L997.3,1196.2 L997.9,1194.9 L998.6,1193.5 L999.1,1192.2 L999.7,1190.8 L1000.2,1189.4 L1000.8,1188.0 L1001.3,1186.6 L1001.8,1185.2 L1002.3,1183.8 L1002.8,1182.4 L1003.2,1180.9 L1003.7,1179.5 L1004.1,1178.0 L1004.6,1176.6 L1005.0,1175.1 L1005.5,1173.7 L1005.9,1172.2 L1006.4,1170.8 L1006.8,1169.3 L1007.3,1167.9 L1007.7,1166.4 L1008.2,1165.0 L1008.6,1163.5 L1009.0,1162.1 L1009.5,1160.6 L1009.9,1159.2 L1010.3,1157.7 L1010.8,1156.3 L1011.2,1154.8 L1011.6,1153.4 L1012.1,1151.9 L1012.5,1150.5 L1012.9,1149.0 L1013.3,1147.6 L1013.8,1146.1 L1014.2,1144.7 L1014.6,1143.2 L1015.0,1141.8 L1015.4,1140.3 L1015.9,1138.9 L1016.3,1137.4 L1016.7,1136.0 L1017.1,1134.5 L1017.5,1133.1 L1017.9,1131.6 L1018.3,1130.2 L1018.7,1128.7 L1019.2,1127.3 L1019.6,1125.8 L1020.0,1124.4 L1020.4,1122.9 L1020.8,1121.5 L1021.2,1120.0 L1021.6,1118.5 L1022.0,1117.1 L1022.4,1115.6 L1022.8,1114.2 L1023.2,1112.7 L1023.6,1111.3 L1024.0,1109.8 L1024.4,1108.4 L1024.8,1106.9 L1025.2,1105.5 L1025.5,1104.0 L1025.9,1102.6 L1026.3,1101.1 L1026.7,1099.7 L1027.1,1098.2 L1027.5,1096.8 L1027.9,1095.3 L1028.3,1093.8 L1028.6,1092.4 L1029.0,1090.9 L1029.4,1089.5 L1029.8,1088.0 L1030.2,1086.6 L1030.6,1085.1 L1030.9,1083.7 L1031.3,1082.2 L1031.7,1080.8 L1032.1,1079.3 L1032.4,1077.8 L1032.8,1076.4 L1033.2,1074.9 L1033.6,1073.5 L1033.9,1072.0 L1034.3,1070.6 L1034.7,1069.1 L1035.0,1067.7 L1035.4,1066.2 L1035.8,1064.8 L1036.2,1063.3 L1036.5,1061.8 L1036.9,1060.4 L1037.3,1058.9 L1037.6,1057.5 L1038.0,1056.0 L1038.3,1054.6 L1038.7,1053.1 L1039.1,1051.7 L1039.4,1050.2 L1039.8,1048.7 L1040.2,1047.3 L1040.5,1045.8 L1040.9,1044.4 L1041.2,1042.9 L1041.6,1041.5 L1042.0,1040.0 L1042.3,1038.6 L1042.7,1037.1 L1043.0,1035.6 L1043.4,1034.2 L1043.7,1032.7 L1044.1,1031.3 L1044.4,1029.8 L1044.8,1028.4 L1045.1,1026.9 L1045.5,1025.5 L1045.8,1024.0 L1046.2,1022.5 L1046.6,1021.1 L1046.9,1019.6 L1047.3,1018.2 L1047.6,1016.7 L1047.9,1015.3 L1048.3,1013.8 L1048.6,1012.3 L1049.0,1010.9 L1049.3,1009.4 L1049.7,1008.0 L1050.0,1006.5 L1050.4,1005.1 L1050.7,1003.6 L1051.1,1002.1 L1051.4,1000.7 L1051.8,999.2 L1052.1,997.8 L1052.4,996.3 L1052.8,994.9 L1053.1,993.4 L1053.5,992.0 L1053.8,990.5 L1054.2,989.0 L1054.5,987.6 L1054.8,986.1 L1055.2,984.7 L1055.5,983.2 L1055.9,981.8 L1056.2,980.3 L1056.6,978.8 L1056.9,977.4 L1057.2,975.9 L1057.6,974.5 L1057.9,973.0 L1058.3,971.6 L1058.6,970.1 L1058.9,968.6 L1059.3,967.2 L1059.6,965.7 L1060.0,964.3 L1060.3,962.8 L1060.6,961.4 L1061.0,959.9 L1061.3,958.4 L1061.6,957.0 L1062.0,955.5 L1062.3,954.1 L1062.7,952.6 L1063.0,951.2 L1063.3,949.7 L1063.7,948.2 L1064.0,946.8 L1064.3,945.3 L1064.7,943.9 L1065.0,942.4 L1065.4,941.0 L1065.7,939.5 L1066.0,938.0 L1066.4,936.6 L1066.7,935.1 L1067.1,933.7 L1067.4,932.2 L1067.7,930.8 L1068.1,929.3 L1068.4,927.8 L1068.7,926.4 L1069.1,924.9 L1069.4,923.5 L1069.8,922.0 L1070.1,920.6 L1070.4,919.1 L1070.8,917.6 L1071.1,916.2 L1071.5,914.7 L1071.8,913.3 L1072.1,911.8 L1072.5,910.4 L1072.8,908.9 L1073.2,907.4 L1073.5,906.0 L1073.8,904.5 L1074.2,903.1 L1074.5,901.6 L1074.9,900.2 L1075.2,898.7 L1075.5,897.2 L1075.9,895.8 L1076.2,894.3 L1076.6,892.9 L1076.9,891.4 L1077.3,890.0 L1077.6,888.5 L1078.0,887.0 L1078.3,885.6 L1078.6,884.1 L1079.0,882.7 L1079.3,881.2 L1079.7,879.8 L1080.0,878.3 L1080.4,876.8 L1080.7,875.4 L1081.1,873.9 L1081.4,872.5 L1081.8,871.0 L1082.1,869.6 L1082.4,868.1 L1082.8,866.7 L1083.1,865.2 L1083.5,863.7 L1083.8,862.3 L1084.2,860.8 L1084.5,859.4 L1084.9,857.9 L1085.2,856.5 L1085.6,855.0 L1085.9,853.5 L1086.3,852.1 L1086.6,850.6 L1087.0,849.2 L1087.3,847.7 L1087.7,846.3 L1088.0,844.8 L1088.4,843.4 L1088.7,841.9 L1089.1,840.4 L1089.4,839.0 L1089.8,837.5 L1090.1,836.1 L1090.5,834.6 L1090.8,833.2 L1091.2,831.7 L1091.6,830.2 L1091.9,828.8 L1092.3,827.3 L1092.6,825.9 L1093.0,824.4 L1093.3,823.0 L1093.7,821.5 L1094.0,820.1 L1094.4,818.6 L1094.7,817.1 L1095.1,815.7 L1095.4,814.2 L1095.8,812.8 L1096.2,811.3 L1096.5,809.9 L1096.9,808.4 L1097.2,807.0 L1097.6,805.5 L1097.9,804.0 L1098.3,802.6 L1098.7,801.1 L1099.0,799.7 L1099.4,798.2 L1099.7,796.8 L1100.1,795.3 L1100.4,793.9 L1100.8,792.4 L1101.2,790.9 L1101.5,789.5 L1101.9,788.0 L1102.2,786.6 L1102.6,785.1 L1102.9,783.7 L1103.3,782.2 L1103.7,780.8 L1104.0,779.3 L1104.4,777.8 L1104.7,776.4 L1105.1,774.9 L1105.5,773.5 L1105.8,772.0 L1106.2,770.6 L1106.5,769.1 L1106.9,767.7 L1107.3,766.2 L1107.6,764.7 L1108.0,763.3 L1108.4,761.8 L1108.7,760.4 L1109.1,758.9 L1109.4,757.5 L1109.8,756.0 L1110.2,754.6 L1110.5,753.1 L1110.9,751.7 L1111.3,750.2 L1111.6,748.7 L1112.0,747.3 L1112.3,745.8 L1112.7,744.4 L1113.1,742.9 L1113.4,741.5 L1113.8,740.0 L1114.2,738.6 L1114.5,737.1 L1114.9,735.6 L1115.3,734.2 L1115.6,732.7 L1116.0,731.3 L1116.3,729.8 L1116.7,728.4 L1117.1,726.9 L1117.4,725.5 L1117.8,724.0 L1118.2,722.6 L1118.5,721.1 L1118.9,719.6 L1119.3,718.2 L1119.6,716.7 L1120.0,715.3 L1120.4,713.8 L1120.7,712.4 L1121.1,710.9 L1121.5,709.5 L1121.8,708.0 L1122.2,706.6 L1122.6,705.1 L1122.9,703.6 L1123.3,702.2 L1123.7,700.7 L1124.0,699.3 L1124.4,697.8 L1124.8,696.4 L1125.1,694.9 L1125.5,693.5 L1125.9,692.0 L1126.2,690.6 L1126.6,689.1 L1127.0,687.7 L1127.3,686.2 L1127.7,684.7 L1128.1,683.3 L1128.4,681.8 L1128.8,680.4 L1129.2,678.9 L1129.6,677.5 L1129.9,676.0 L1130.3,674.6 L1130.7,673.1 L1131.0,671.7 L1131.4,670.2 L1131.8,668.7 L1132.1,667.3 L1132.5,665.8 L1132.9,664.4 L1133.2,662.9 L1133.6,661.5 L1134.0,660.0 L1134.4,658.6 L1134.7,657.1 L1135.1,655.7 L1135.5,654.2 L1135.8,652.8 L1136.2,651.3 L1136.6,649.8 L1136.9,648.4 L1137.3,646.9 L1137.7,645.5 L1138.1,644.0 L1138.4,642.6 L1138.8,641.1 L1139.2,639.7 L1139.5,638.2 L1139.9,636.8 L1140.3,635.3 L1140.7,633.9 L1141.0,632.4 L1141.4,630.9 L1141.8,629.5 L1142.1,628.0 L1142.5,626.6 L1142.9,625.1 L1143.3,623.7 L1143.6,622.2 L1144.0,620.8 L1144.4,619.3 L1144.7,617.9 L1145.1,616.4 L1145.5,615.0 L1145.9,613.5 L1146.2,612.1 L1146.6,610.6 L1147.0,609.1 L1147.3,607.7 L1147.7,606.2 L1148.1,604.8 L1148.5,603.3 L1148.8,601.9 L1149.2,600.4 L1149.6,599.0 L1150.0,597.5 L1150.3,596.1 L1150.7,594.6 L1151.1,593.2 L1151.4,591.7 L1151.8,590.3 L1152.2,588.8 L1152.6,587.3 L1152.9,585.9 L1153.3,584.4 L1153.7,583.0 L1154.1,581.5 L1154.4,580.1 L1154.8,578.6 L1155.2,577.2 L1155.5,575.7 L1155.9,574.3 L1156.3,572.8 L1156.7,571.4 L1157.0,569.9 L1157.4,568.5 L1157.8,567.0 L1158.2,565.5 L1158.5,564.1 L1158.9,562.6 L1159.3,561.2 L1159.6,559.7 L1160.0,558.3 L1160.4,556.8 L1160.8,555.4 L1161.1,553.9 L1161.5,552.5 L1161.9,551.0 L1162.3,549.6 L1162.6,548.1 L1163.0,546.7 L1163.4,545.2 L1163.7,543.8 L1164.1,542.3 L1164.5,540.8 L1164.9,539.4 L1165.2,537.9 L1165.6,536.5 L1166.0,535.0 L1166.4,533.6 L1166.7,532.1 L1167.1,530.7 L1167.5,529.2 L1167.9,527.8 L1168.2,526.3 L1168.6,524.9 L1169.0,523.4 L1169.3,522.0 L1169.7,520.5 L1170.1,519.1 L1170.5,517.6 L1170.8,516.2 L1171.2,514.7 L1171.6,513.2 L1172.0,511.8 L1172.3,510.3 L1172.7,508.9 L1173.1,507.4 L1173.4,506.0 L1173.8,504.5 L1174.2,503.1 L1174.6,501.6 L1174.9,500.2 L1175.3,498.7 L1175.7,497.3 L1176.1,495.8 L1176.4,494.4 L1176.8,492.9 L1177.2,491.5 L1177.5,490.0 L1177.9,488.6 L1178.3,487.1 L1178.7,485.6 L1179.0,484.2 L1179.4,482.7 L1179.8,481.3 L1180.1,479.8 L1180.5,478.4 L1180.9,476.9 L1181.3,475.5 L1181.6,474.0 L1182.0,472.6 L1182.4,471.1 L1182.7,469.7 L1183.1,468.2 L1183.5,466.8 L1183.9,465.3 L1184.2,463.9 L1184.6,462.4 L1185.0,461.0 L1185.3,459.5 L1185.7,458.1 L1186.1,456.6 L1186.5,455.2 L1186.8,453.7 L1187.2,452.2 L1187.6,450.8 L1187.9,449.3 L1188.3,447.9 L1188.7,446.4 L1189.0,445.0 L1189.4,443.5 L1189.8,442.1 L1190.2,440.6 L1190.5,439.2 L1190.9,437.7 L1191.3,436.3 L1191.6,434.8 L1192.0,433.4 L1192.4,431.9 L1192.7,430.5 L1193.1,429.0 L1193.5,427.6 L1193.9,426.1 L1194.2,424.7 L1194.6,423.2 L1195.0,421.8 L1195.3,420.3 L1195.7,418.8 L1196.1,417.4 L1196.4,415.9 L1196.8,414.5 L1197.2,413.0 L1197.5,411.6 L1197.9,410.1 L1198.3,408.7 L1198.6,407.2 L1199.0,405.8 L1199.4,404.3 L1199.7,402.9 L1200.1,401.4 L1200.5,400.0 L1200.8,398.5 L1201.2,397.1 L1201.6,395.6 L1202.0,394.2 L1202.3,392.7 L1202.7,391.3 L1203.1,389.8 L1203.4,388.4 L1203.8,386.9 L1204.1,385.5 L1204.5,384.0 L1204.9,382.6 L1205.2,381.1 L1205.6,379.7 L1206.0,378.2 L1206.3,376.7 L1206.7,375.3 L1207.1,373.8 L1207.4,372.4 L1207.8,370.9 L1208.2,369.5 L1208.5,368.0 L1208.9,366.6 L1209.3,365.1 L1209.6,363.7 L1210.0,362.2 L1210.4,360.8 L1210.7,359.3 L1211.1,357.9 L1211.4,356.4 L1211.8,355.0 L1212.2,353.5 L1212.5,352.1 L1212.9,350.6 L1213.3,349.2 L1213.6,347.7 L1214.0,346.3 L1214.4,344.8 L1214.7,343.4 L1215.1,341.9 L1215.4,340.5 L1215.8,339.0 L1216.2,337.6 L1216.5,336.1 L1216.9,334.7"/>
<path stroke="#FF00FF" d="M493.1,1378.8 L493.3,1377.4 L493.5,1375.9 L493.8,1374.4 L494.0,1372.9 L494.3,1371.5 L494.5,1370.0 L494.8,1368.5 L495.1,1367.0 L495.4,1365.6 L495.7,1364.1 L496.0,1362.7 L496.4,1361.2 L496.7,1359.7 L497.1,1358.3 L497.4,1356.8 L497.8,1355.4 L498.2,1354.0 L498.6,1352.5 L499.0,1351.1 L499.4,1349.6 L499.8,1348.2 L500.2,1346.8 L500.6,1345.4 L501.1,1343.9 L501.5,1342.5 L502.0,1341.1 L502.5,1339.7 L503.0,1338.3 L503.5,1336.9 L504.0,1335.5 L504.5,1334.1 L505.0,1332.7 L505.5,1331.3 L506.1,1329.9 L506.6,1328.5 L507.2,1327.1 L507.8,1325.8 L508.3,1324.4 L508.9,1323.0 L509.5,1321.6 L510.1,1320.3 L510.7,1318.9 L511.3,1317.6 L512.0,1316.2 L512.6,1314.9 L513.3,1313.5 L513.9,1312.2 L514.6,1310.8 L515.2,1309.5 L515.9,1308.2 L516.6,1306.8 L517.3,1305.5 L518.0,1304.2 L518.7,1302.9 L519.4,1301.6 L520.2,1300.3 L520.9,1299.0 L521.7,1297.7 L522.4,1296.4 L523.2,1295.1 L523.9,1293.8 L524.7,1292.5 L525.5,1291.3 L526.3,1290.0 L527.1,1288.7 L527.9,1287.5 L528.7,1286.2 L529.5,1285.0 L530.4,1283.7 L531.2,1282.5 L532.1,1281.2 L532.9,1280.0 L533.8,1278.8 L534.6,1277.6 L535.5,1276.4 L536.4,1275.1 L537.3,1273.9 L538.2,1272.7 L539.1,1271.5 L540.0,1270.3 L540.9,1269.2 L541.8,1268.0 L542.8,1266.8 L543.7,1265.6 L544.6,1264.5 L545.6,1263.3 L546.6,1262.2 L547.5,1261.0 L548.5,1259.9 L549.5,1258.7 L550.5,1257.6 L551.5,1256.5 L552.4,1255.3 L553.5,1254.2 L554.5,1253.1 L555.5,1252.0 L556.5,1250.9 L557.5,1249.8 L558.6,1248.7 L559.6,1247.6 L560.7,1246.6 L561.7,1245.5 L562.8,1244.4 L563.9,1243.4 L564.9,1242.3 L566.0,1241.3 L567.1,1240.2 L568.2,1239.2 L569.3,1238.2 L570.4,1237.2 L571.5,1236.2 L572.6,1235.1 L573.7,1234.1 L574.8,1233.1 L576.0,1232.2 L577.1,1231.2 L578.3,1230.2 L579.4,1229.2 L580.6,1228.3 L581.7,1227.3 L582.9,1226.4 L584.0,1225.4 L585.2,1224.5 L586.4,1223.6 L587.6,1222.6 L588.8,1221.7 L590.0,1220.8 L591.2,1219.9 L592.4,1219.0 L593.6,1218.1 L594.8,1217.2 L596.0,1216.4 L597.2,1215.5 L598.5,1214.6 L599.7,1213.8 L600.9,1212.9 L602.2,1212.1 L603.4,1211.3 L604.7,1210.5 L605.9,1209.6 L607.2,1208.8 L608.4,1208.0 L609.7,1207.2 L611.0,1206.4 L612.3,1205.7 L613.5,1204.9 L614.8,1204.1 L616.1,1203.4 L617.4,1202.6 L618.7,1201.9 L620.0,1201.1 L621.3,1200.4 L622.6,1199.7 L623.9,1199.0 L625.3,1198.2 L626.6,1197.5 L627.9,1196.9 L629.2,1196.2 L630.6,1195.5 L631.9,1194.8 L633.2,1194.2 L634.6,1193.5 L635.9,1192.8 L637.3,1192.2 L638.6,1191.6 L640.0,1190.9 L641.3,1190.3 L642.7,1189.7 L644.1,1189.1 L645.5,1188.5 L646.8,1187.9 L648.2,1187.3 L649.6,1186.7 L651.0,1186.2 L652.4,1185.6 L653.7,1185.0 L655.1,1184.5 L656.5,1184.0 L657.9,1183.4 L659.3,1182.9 L660.7,1182.4 L662.1,1181.9 L663.5,1181.4 L665.0,1180.9 L666.4,1180.4 L667.8,1179.9 L669.2,1179.4 L670.6,1178.9 L672.1,1178.5 L673.5,1178.0 L674.9,1177.6 L676.3,1177.1 L677.8,1176.7 L679.2,1176.3 L680.7,1175.9 L682.1,1175.4 L683.5,1175.0 L685.0,1174.6 L686.4,1174.2 L687.9,1173.9 L689.3,1173.5 L690.8,1173.1 L692.2,1172.8 L693.7,1172.4 L695.2,1172.1 L696.6,1171.7 L698.1,1171.4 L699.5,1171.1 L701.0,1170.8 L702.5,1170.4 L704.0,1170.1 L705.4,1169.9 L706.9,1169.6 L708.4,1169.3 L709.8,1169.0 L711.3,1168.7 L712.8,1168.5 L714.3,1168.2 L715.8,1168.0 L717.2,1167.8 L718.7,1167.5 L720.2,1167.3 L721.7,1167.1 L723.2,1166.9 L724.7,1166.7 L726.2,1166.5 L727.6,1166.3 L729.1,1166.1 L730.6,1166.0 L732.1,1165.8 L733.6,1165.6 L735.1,1165.5 L736.6,1165.4 L738.1,1165.2 L739.6,1165.1 L741.1,1165.0 L742.6,1164.9 L744.1,1164.8 L745.6,1164.7 L747.1,1164.6 L748.6,1164.5 L750.1,1164.4 L751.6,1164.3 L753.1,1164.3 L754.6,1164.2 L756.1,1164.2 L757.6,1164.2 L759.1,1164.1 L760.6,1164.1 L762.1,1164.1 L763.6,1164.1 L765.1,1164.1 L766.6,1164.1 L768.1,1164.1 L769.6,1164.1 L771.1,1164.1 L772.6,1164.2 L774.1,1164.2 L775.6,1164.3 L777.1,1164.3 L778.6,1164.4 L780.1,1164.5 L781.6,1164.5 L783.1,1164.6 L784.6,1164.7 L786.1,1164.8 L787.6,1164.9 L789.1,1165.0 L790.6,1165.2 L792.1,1165.3 L793.5,1165.4 L795.0,1165.6 L796.5,1165.7 L798.0,1165.9 L799.5,1166.1 L801.0,1166.2 L802.5,1166.4 L804.0,1166.6 L805.4,1166.8 L806.9,1167.0 L808.4,1167.2 L809.9,1167.4 L811.4,1167.7 L812.9,1167.9 L814.3,1168.2 L815.8,1168.4 L817.3,1168.7 L818.8,1168.9 L820.2,1169.2 L821.7,1169.5 L823.2,1169.8 L824.6,1170.0 L826.1,1170.4 L827.6,1170.7 L829.0,1171.0 L830.5,1171.3 L831.9,1171.6 L833.4,1172.0 L834.8,1172.3 L836.3,1172.7 L837.7,1173.0 L839.2,1173.4 L840.6,1173.8 L842.1,1174.1 L843.5,1174.5 L845.0,1174.9 L846.4,1175.3 L847.8,1175.8 L849.3,1176.2 L850.7,1176.6 L852.1,1177.0 L853.5,1177.5 L855.0,1177.9 L856.4,1178.4 L857.8,1178.8 L859.2,1179.3 L860.6,1179.8 L862.0,1180.3 L863.4,1180.8 L864.8,1181.3 L866.2,1181.8 L867.6,1182.3 L869.0,1182.8 L870.4,1183.4 L871.8,1183.9 L873.2,1184.4 L874.6,1185.0 L876.0,1185.6 L877.3,1186.1 L878.7,1186.7 L880.1,1187.3 L881.5,1187.9 L882.8,1188.5 L884.2,1189.1 L885.5,1189.7 L886.9,1190.3 L888.2,1190.9 L889.6,1191.6 L890.9,1192.2 L892.3,1192.9 L893.6,1193.5 L894.9,1194.2 L896.3,1194.8 L897.6,1195.5 L898.9,1196.2 L900.3,1196.9 L901.6,1197.6 L902.9,1198.3 L904.2,1199.0 L905.5,1199.7 L906.8,1200.4 L908.1,1201.2 L909.4,1201.9 L910.7,1202.6 L912.0,1203.4 L913.3,1204.2 L914.6,1204.9 L915.9,1205.7 L917.2,1206.5 L918.4,1207.2 L919.7,1208.0 L921.0,1208.8 L922.3,1209.6 L923.5,1210.4 L924.8,1211.2 L926.1,1212.0 L927.3,1212.9 L928.6,1213.7 L929.8,1214.5 L931.1,1215.3 L932.3,1216.2 L933.6,1217.0 L934.8,1217.9 L936.0,1218.7 L937.3,1219.6 L938.5,1220.5 L939.7,1221.4 L941.0,1222.2 L942.2,1223.1 L943.4,1224.0 L944.6,1224.9 L945.8,1225.8 L947.1,1226.7 L948.3,1227.6 L949.5,1228.5 L950.7,1229.5 L951.9,1230.4 L953.1,1231.3 L954.3,1232.3 L955.5,1233.2 L956.6,1234.1 L957.8,1235.1 L959.0,1236.0 L960.2,1237.0 L961.4,1238.0 L962.6,1238.9 L963.7,1239.9 L964.9,1240.9 L966.1,1241.8 L967.2,1242.8 L968.4,1243.8 L969.5,1244.8 L970.7,1245.8 L971.9,1246.8 L973.0,1247.8 L974.2,1248.8 L975.3,1249.8 L976.4,1250.8 L977.6,1251.8 L978.7,1252.9 L979.9,1253.9 L981.0,1254.9 L982.1,1255.9 L983.3,1256.9 L984.5,1257.8 L985.6,1258.8 L986.8,1259.7 L988.0,1260.5 L989.2,1261.3 L990.5,1262.1 L991.7,1262.8 L993.0,1263.4 L994.3,1264.0 L995.7,1264.5 L997.0,1265.0 L998.4,1265.3 L999.8,1265.5 L1001.1,1265.7 L1002.5,1265.7 L1003.8,1265.6 L1005.0,1265.4 L1006.2,1265.0 L1007.2,1264.4 L1008.2,1263.7 L1009.1,1262.9 L1010.0,1262.0 L1010.8,1260.9 L1011.5,1259.8 L1012.2,1258.5 L1012.8,1257.2 L1013.4,1255.8 L1013.9,1254.4 L1014.4,1252.9 L1014.9,1251.4 L1015.4,1249.8 L1015.8,1248.3 L1016.3,1246.7 L1016.7,1245.2 L1017.1,1243.6 L1017.6,1242.1 L1018.0,1240.6 L1018.4,1239.0 L1018.8,1237.5 L1019.2,1236.0 L1019.6,1234.5 L1019.9,1233.0 L1020.3,1231.5 L1020.7,1230.0 L1021.0,1228.5 L1021.4,1227.0 L1021.7,1225.5 L1022.1,1224.0 L1022.4,1222.5 L1022.8,1221.0 L1023.1,1219.6 L1023.4,1218.1 L1023.7,1216.6 L1024.1,1215.1 L1024.4,1213.7 L1024.7,1212.2 L1025.0,1210.8 L1025.3,1209.3 L1025.6,1207.8 L1025.9,1206.4 L1026.2,1204.9 L1026.5,1203.5 L1026.8,1202.0 L1027.0,1200.6 L1027.3,1199.1 L1027.6,1197.7 L1027.9,1196.2 L1028.1,1194.8 L1028.4,1193.3 L1028.7,1191.9 L1029.0,1190.4 L1029.2,1189.0 L1029.5,1187.6 L1029.8,1186.1 L1030.0,1184.7 L1030.3,1183.2 L1030.5,1181.8 L1030.8,1180.3 L1031.1,1178.9 L1031.3,1177.4 L1031.6,1176.0 L1031.9,1174.5 L1032.1,1173.1 L1032.4,1171.6 L1032.6,1170.2 L1032.9,1168.7 L1033.2,1167.2 L1033.4,1165.8 L1033.7,1164.3 L1033.9,1162.9 L1034.2,1161.4 L1034.5,1159.9 L1034.7,1158.5 L1035.0,1157.0 L1035.3,1155.5 L1035.5,1154.1 L1035.8,1152.6 L1036.1,1151.1 L1036.3,1149.7 L1036.6,1148.2 L1036.8,1146.7 L1037.1,1145.2 L1037.4,1143.8 L1037.6,1142.3 L1037.9,1140.8 L1038.2,1139.3 L1038.4,1137.9 L1038.7,1136.4 L1039.0,1134.9 L1039.2,1133.4 L1039.5,1132.0 L1039.8,1130.5 L1040.0,1129.0 L1040.3,1127.5 L1040.6,1126.0 L1040.8,1124.6 L1041.1,1123.1 L1041.4,1121.6 L1041.6,1120.1 L1041.9,1118.6 L1042.2,1117.2 L1042.4,1115.7 L1042.7,1114.2 L1043.0,1112.7 L1043.2,1111.2 L1043.5,1109.7 L1043.8,1108.3 L1044.0,1106.8 L1044.3,1105.3 L1044.6,1103.8 L1044.8,1102.3 L1045.1,1100.8 L1045.4,1099.4 L1045.6,1097.9 L1045.9,1096.4 L1046.2,1094.9 L1046.4,1093.4 L1046.7,1092.0 L1047.0,1090.5 L1047.2,1089.0 L1047.5,1087.5 L1047.8,1086.0 L1048.0,1084.6 L1048.3,1083.1 L1048.6,1081.6 L1048.9,1080.1 L1049.1,1078.6 L1049.4,1077.2 L1049.7,1075.7 L1049.9,1074.2 L1050.2,1072.7 L1050.5,1071.3 L1050.7,1069.8 L1051.0,1068.3 L1051.3,1066.8 L1051.6,1065.3 L1051.8,1063.9 L1052.1,1062.4 L1052.4,1060.9 L1052.6,1059.4 L1052.9,1058.0 L1053.2,1056.5 L1053.4,1055.0 L1053.7,1053.5 L1054.0,1052.1 L1054.3,1050.6 L1054.5,1049.1 L1054.8,1047.6 L1055.1,1046.1 L1055.3,1044.7 L1055.6,1043.2 L1055.9,1041.7 L1056.2,1040.2 L1056.4,1038.8 L1056.7,1037.3 L1057.0,1035.8 L1057.2,1034.3 L1057.5,1032.9 L1057.8,1031.4 L1058.1,1029.9 L1058.3,1028.5 L1058.6,1027.0 L1058.9,1025.5 L1059.1,1024.0 L1059.4,1022.6 L1059.7,1021.1 L1060.0,1019.6 L1060.2,1018.1 L1060.5,1016.7 L1060.8,1015.2 L1061.1,1013.7 L1061.3,1012.2 L1061.6,1010.8 L1061.9,1009.3 L1062.1,1007.8 L1062.4,1006.4 L1062.7,1004.9 L1063.0,1003.4 L1063.2,1001.9 L1063.5,1000.5 L1063.8,999.0 L1064.1,997.5 L1064.3,996.1 L1064.6,994.6 L1064.9,993.1 L1065.2,991.6 L1065.4,990.2 L1065.7,988.7 L1066.0,987.2 L1066.3,985.8 L1066.5,984.3 L1066.8,982.8 L1067.1,981.3 L1067.4,979.9 L1067.6,978.4 L1067.9,976.9 L1068.2,975.5 L1068.5,974.0 L1068.7,972.5 L1069.0,971.0 L1069.3,969.6 L1069.6,968.1 L1069.8,966.6 L1070.1,965.2 L1070.4,963.7 L1070.7,962.2 L1070.9,960.8 L1071.2,959.3 L1071.5,957.8 L1071.8,956.3 L1072.0,954.9 L1072.3,953.4 L1072.6,951.9 L1072.9,950.5 L1073.1,949.0 L1073.4,947.5 L1073.7,946.1 L1074.0,944.6 L1074.3,943.1 L1074.5,941.6 L1074.8,940.2 L1075.1,938.7 L1075.4,937.2 L1075.6,935.8 L1075.9,934.3 L1076.2,932.8 L1076.5,931.4 L1076.7,929.9 L1077.0,928.4 L1077.3,927.0 L1077.6,925.5 L1077.9,924.0 L1078.1,922.5 L1078.4,921.1 L1078.7,919.6 L1079.0,918.1 L1079.2,916.7 L1079.5,915.2 L1079.8,913.7 L1080.1,912.3 L1080.4,910.8 L1080.6,909.3 L1080.9,907.9 L1081.2,906.4 L1081.5,904.9 L1081.7,903.4 L1082.0,902.0 L1082.3,900.5 L1082.6,899.0 L1082.9,897.6 L1083.1,896.1 L1083.4,894.6 L1083.7,893.2 L1084.0,891.7 L1084.3,890.2 L1084.5,888.7 L1084.8,887.3 L1085.1,885.8 L1085.4,884.3 L1085.7,882.9 L1085.9,881.4 L1086.2,879.9 L1086.5,878.5 L1086.8,877.0 L1087.1,875.5 L1087.3,874.0 L1087.6,872.6 L1087.9,871.1 L1088.2,869.6 L1088.5,868.2 L1088.7,866.7 L1089.0,865.2 L1089.3,863.8 L1089.6,862.3 L1089.9,860.8 L1090.1,859.3 L1090.4,857.9 L1090.7,856.4 L1091.0,854.9 L1091.3,853.5 L1091.5,852.0 L1091.8,850.5 L1092.1,849.0 L1092.4,847.6 L1092.7,846.1 L1092.9,844.6 L1093.2,843.2 L1093.5,841.7 L1093.8,840.2 L1094.1,838.7 L1094.3,837.3 L1094.6,835.8 L1094.9,834.3 L1095.2,832.9 L1095.5,831.4 L1095.8,829.9 L1096.0,828.4 L1096.3,827.0 L1096.6,825.5 L1096.9,824.0 L1097.2,822.5 L1097.4,821.1 L1097.7,819.6 L1098.0,818.1 L1098.3,816.7 L1098.6,815.2 L1098.9,813.7 L1099.1,812.2 L1099.4,810.8 L1099.7,809.3 L1100.0,807.8 L1100.3,806.3 L1100.5,804.9 L1100.8,803.4 L1101.1,801.9 L1101.4,800.4 L1101.7,799.0 L1102.0,797.5 L1102.2,796.0 L1102.5,794.5 L1102.8,793.1 L1103.1,791.6 L1103.4,790.1 L1103.7,788.6 L1103.9,787.2 L1104.2,785.7 L1104.5,784.2 L1104.8,782.7 L1105.1,781.3 L1105.4,779.8 L1105.6,778.3 L1105.9,776.8 L1106.2,775.3 L1106.5,773.9 L1106.8,772.4 L1107.1,770.9"/>
<path stroke="#FF8000" d="M493.1,1378.8 L493.3,1377.4 L493.5,1375.9 L493.8,1374.4 L494.0,1372.9 L494.3,1371.4 L494.5,1370.0 L494.8,1368.5 L495.1,1367.0 L495.4,1365.6 L495.7,1364.1 L496.0,1362.6 L496.4,1361.2 L496.7,1359.7 L497.1,1358.3 L497.4,1356.8 L497.8,1355.4 L498.2,1353.9 L498.5,1352.5 L498.9,1351.1 L499.4,1349.6 L499.8,1348.2 L500.2,1346.8 L500.6,1345.3 L501.1,1343.9 L501.5,1342.5 L502.0,1341.1 L502.5,1339.7 L503.0,1338.2 L503.5,1336.8 L504.0,1335.4 L504.5,1334.0 L505.0,1332.6 L505.5,1331.2 L506.1,1329.8 L506.6,1328.5 L507.2,1327.1 L507.8,1325.7 L508.3,1324.3 L508.9,1322.9 L509.5,1321.6 L510.1,1320.2 L510.7,1318.8 L511.3,1317.5 L512.0,1316.1 L512.6,1314.8 L513.3,1313.4 L513.9,1312.1 L514.6,1310.8 L515.3,1309.4 L515.9,1308.1 L516.6,1306.8 L517.3,1305.4 L518.0,1304.1 L518.7,1302.8 L519.5,1301.5 L520.2,1300.2 L520.9,1298.9 L521.7,1297.6 L522.4,1296.3 L523.2,1295.0 L524.0,1293.7 L524.8,1292.5 L525.5,1291.2 L526.3,1289.9 L527.1,1288.6 L527.9,1287.4 L528.8,1286.1 L529.6,1284.9 L530.4,1283.6 L531.3,1282.4 L532.1,1281.2 L533.0,1279.9 L533.8,1278.7 L534.7,1277.5 L535.6,1276.3 L536.5,1275.0 L537.3,1273.8 L538.2,1272.6 L539.2,1271.4 L540.1,1270.2 L541.0,1269.1 L541.9,1267.9 L542.8,1266.7 L543.8,1265.5 L544.7,1264.4 L545.7,1263.2 L546.7,1262.0 L547.6,1260.9 L548.6,1259.7 L549.6,1258.6 L550.6,1257.5 L551.6,1256.3 L552.6,1255.2 L553.6,1254.1 L554.6,1253.0 L555.6,1251.9 L556.6,1250.8 L557.7,1249.7 L558.7,1248.6 L559.8,1247.5 L560.8,1246.5 L561.9,1245.4 L562.9,1244.3 L564.0,1243.3 L565.1,1242.2 L566.2,1241.2 L567.2,1240.1 L568.3,1239.1 L569.4,1238.1 L570.5,1237.0 L571.7,1236.0 L572.8,1235.0 L573.9,1234.0 L575.0,1233.0 L576.1,1232.0 L577.3,1231.1 L578.4,1230.1 L579.6,1229.1 L580.7,1228.1 L581.9,1227.2 L583.1,1226.2 L584.2,1225.3 L585.4,1224.4 L586.6,1223.4 L587.8,1222.5 L589.0,1221.6 L590.2,1220.7 L591.4,1219.8 L592.6,1218.9 L593.8,1218.0 L595.0,1217.1 L596.2,1216.2 L597.4,1215.4 L598.7,1214.5 L599.9,1213.7 L601.1,1212.8 L602.4,1212.0 L603.6,1211.2 L604.9,1210.3 L606.1,1209.5 L607.4,1208.7 L608.7,1207.9 L609.9,1207.1 L611.2,1206.3 L612.5,1205.5 L613.8,1204.8 L615.1,1204.0 L616.4,1203.2 L617.7,1202.5 L619.0,1201.7 L620.3,1201.0 L621.6,1200.3 L622.9,1199.6 L624.2,1198.8 L625.5,1198.1 L626.8,1197.4 L628.2,1196.7 L629.5,1196.1 L630.8,1195.4 L632.2,1194.7 L633.5,1194.0 L634.8,1193.4 L636.2,1192.7 L637.5,1192.1 L638.9,1191.5 L640.3,1190.8 L641.6,1190.2 L643.0,1189.6 L644.4,1189.0 L645.7,1188.4 L647.1,1187.8 L648.5,1187.2 L649.9,1186.6 L651.2,1186.1 L652.6,1185.5 L654.0,1184.9 L655.4,1184.4 L656.8,1183.9 L658.2,1183.3 L659.6,1182.8 L661.0,1182.3 L662.4,1181.8 L663.8,1181.3 L665.2,1180.8 L666.7,1180.3 L668.1,1179.8 L669.5,1179.3 L670.9,1178.8 L672.4,1178.4 L673.8,1177.9 L675.2,1177.5 L676.6,1177.0 L678.1,1176.6 L679.5,1176.2 L681.0,1175.8 L682.4,1175.4 L683.8,1175.0 L685.3,1174.6 L686.7,1174.2 L688.2,1173.8 L689.6,1173.4 L691.1,1173.0 L692.6,1172.7 L694.0,1172.3 L695.5,1172.0 L696.9,1171.7 L698.4,1171.3 L699.9,1171.0 L701.3,1170.7 L702.8,1170.4 L704.3,1170.1 L705.7,1169.8 L707.2,1169.5 L708.7,1169.2 L710.2,1169.0 L711.6,1168.7 L713.1,1168.4 L714.6,1168.2 L716.1,1167.9 L717.6,1167.7 L719.1,1167.5 L720.5,1167.3 L722.0,1167.0 L723.5,1166.8 L725.0,1166.6 L726.5,1166.4 L728.0,1166.3 L729.5,1166.1 L731.0,1165.9 L732.5,1165.8 L734.0,1165.6 L735.4,1165.5 L736.9,1165.3 L738.4,1165.2 L739.9,1165.1 L741.4,1164.9 L742.9,1164.8 L744.4,1164.7 L745.9,1164.6 L747.4,1164.5 L748.9,1164.5 L750.4,1164.4 L751.9,1164.3 L753.4,1164.3 L754.9,1164.2 L756.4,1164.2 L757.9,1164.1 L759.4,1164.1 L760.9,1164.1 L762.4,1164.1 L763.9,1164.1 L765.5,1164.1 L767.0,1164.1 L768.5,1164.1 L770.0,1164.1 L771.5,1164.1 L773.0,1164.2 L774.5,1164.2 L776.0,1164.3 L777.5,1164.3 L779.0,1164.4 L780.5,1164.5 L782.0,1164.6 L783.5,1164.6 L785.0,1164.7 L786.5,1164.8 L788.0,1165.0 L789.5,1165.1 L790.9,1165.2 L792.4,1165.3 L793.9,1165.5 L795.4,1165.6 L796.9,1165.8 L798.4,1165.9 L799.9,1166.1 L801.4,1166.3 L802.9,1166.5 L804.4,1166.7 L805.9,1166.9 L807.3,1167.1 L808.8,1167.3 L810.3,1167.5 L811.8,1167.7 L813.3,1168.0 L814.8,1168.2 L816.2,1168.5 L817.7,1168.7 L819.2,1169.0 L820.7,1169.3 L822.1,1169.5 L823.6,1169.8 L825.1,1170.1 L826.5,1170.4 L828.0,1170.7 L829.5,1171.1 L830.9,1171.4 L832.4,1171.7 L833.9,1172.1 L835.3,1172.4 L836.8,1172.8 L838.2,1173.1 L839.7,1173.5 L841.1,1173.9 L842.6,1174.3 L844.0,1174.6 L845.5,1175.0 L846.9,1175.5 L848.3,1175.9 L849.8,1176.3 L851.2,1176.7 L852.6,1177.2 L854.1,1177.6 L855.5,1178.0 L856.9,1178.5 L858.3,1179.0 L859.7,1179.4 L861.2,1179.9 L862.6,1180.4 L864.0,1180.9 L865.4,1181.4 L866.8,1181.9 L868.2,1182.4 L869.6,1183.0 L871.0,1183.5 L872.4,1184.0 L873.8,1184.6 L875.2,1185.2 L876.6,1185.7 L877.9,1186.3 L879.3,1186.9 L880.7,1187.5 L882.1,1188.0 L883.4,1188.6 L884.8,1189.3 L886.2,1189.9 L887.5,1190.5 L888.9,1191.1 L890.2,1191.8 L891.6,1192.4 L892.9,1193.1 L894.3,1193.7 L895.6,1194.4 L896.9,1195.1 L898.3,1195.7 L899.6,1196.4 L900.9,1197.1 L902.3,1197.8 L903.6,1198.5 L904.9,1199.2 L906.2,1200.0 L907.5,1200.7 L908.8,1201.4 L910.1,1202.2 L911.4,1202.9 L912.7,1203.7 L914.0,1204.4 L915.3,1205.2 L916.5,1206.0 L917.8,1206.8 L919.1,1207.6 L920.4,1208.4 L921.6,1209.2 L922.9,1210.0 L924.1,1210.8 L925.4,1211.6 L926.6,1212.5 L927.9,1213.3 L929.1,1214.1 L930.4,1215.0 L931.6,1215.9 L932.8,1216.7 L934.0,1217.6 L935.2,1218.5 L936.5,1219.3 L937.7,1220.2 L938.9,1221.1 L940.1,1222.0 L941.3,1222.9 L942.5,1223.9 L943.7,1224.8 L944.8,1225.7 L946.0,1226.6 L947.2,1227.6 L948.4,1228.5 L949.5,1229.5 L950.7,1230.4 L951.8,1231.4 L953.0,1232.4 L954.1,1233.3 L955.3,1234.3 L956.4,1235.3 L957.5,1236.3 L958.7,1237.3 L959.8,1238.3 L960.9,1239.3 L962.0,1240.3 L963.1,1241.4 L964.2,1242.4 L965.3,1243.4 L966.4,1244.5 L967.5,1245.5 L968.6,1246.6 L969.6,1247.6 L970.7,1248.7 L971.8,1249.7 L972.8,1250.8 L973.9,1251.9 L975.0,1253.0 L976.0,1254.1 L977.0,1255.1 L978.1,1256.2 L979.1,1257.3 L980.2,1258.4 L981.2,1259.5 L982.2,1260.6 L983.2,1261.8 L984.3,1262.9 L985.3,1264.0 L986.3,1265.1 L987.3,1266.2 L988.3,1267.4 L989.3,1268.5 L990.3,1269.6 L991.3,1270.8 L992.3,1271.9 L993.3,1273.0 L994.3,1274.2 L995.3,1275.3 L996.3,1276.4 L997.3,1277.6 L998.3,1278.7 L999.2,1279.9 L1000.2,1281.0 L1001.2,1282.2 L1002.2,1283.3 L1003.2,1284.5 L1004.1,1285.6 L1005.1,1286.8 L1006.1,1287.9 L1007.1,1289.0 L1008.1,1290.2 L1009.0,1291.3 L1010.0,1292.5 L1011.0,1293.6 L1011.9,1294.8 L1012.9,1295.9 L1013.9,1297.0 L1014.9,1298.2 L1015.8,1299.3 L1016.8,1300.4 L1017.8,1301.6 L1018.8,1302.6 L1019.7,1303.5 L1020.6,1304.1 L1021.4,1304.5 L1022.2,1304.4 L1022.9,1304.0 L1023.5,1303.3 L1024.1,1302.3 L1024.6,1301.1 L1025.1,1299.8 L1025.6,1298.4 L1026.1,1297.1 L1026.5,1295.7 L1026.9,1294.3 L1027.3,1292.9 L1027.7,1291.5 L1028.1,1290.1 L1028.5,1288.6 L1028.8,1287.2 L1029.1,1285.7 L1029.5,1284.3 L1029.8,1282.8 L1030.1,1281.3 L1030.3,1279.9 L1030.6,1278.4 L1030.9,1276.9 L1031.1,1275.4 L1031.4,1273.9 L1031.6,1272.4 L1031.8,1270.9 L1032.0,1269.4 L1032.2,1267.8 L1032.4,1266.3 L1032.6,1264.8 L1032.8,1263.3 L1033.0,1261.8 L1033.2,1260.2 L1033.4,1258.7 L1033.6,1257.2 L1033.8,1255.6 L1033.9,1254.1 L1034.1,1252.6 L1034.3,1251.0 L1034.5,1249.5 L1034.6,1248.0 L1034.8,1246.5 L1035.0,1244.9 L1035.2,1243.4 L1035.3,1241.9 L1035.5,1240.4 L1035.7,1238.9 L1035.9,1237.4 L1036.1,1235.8 L1036.2,1234.3 L1036.4,1232.8 L1036.6,1231.3 L1036.8,1229.8 L1037.0,1228.3 L1037.1,1226.8 L1037.3,1225.3 L1037.5,1223.8 L1037.7,1222.3 L1037.9,1220.8 L1038.1,1219.3 L1038.2,1217.8 L1038.4,1216.3 L1038.6,1214.8 L1038.8,1213.3 L1039.0,1211.8 L1039.2,1210.3 L1039.4,1208.8 L1039.6,1207.3 L1039.7,1205.8 L1039.9,1204.3 L1040.1,1202.8 L1040.3,1201.3 L1040.5,1199.8 L1040.7,1198.4 L1040.9,1196.9 L1041.1,1195.4 L1041.3,1193.9 L1041.4,1192.4 L1041.6,1190.9 L1041.8,1189.5 L1042.0,1188.0 L1042.2,1186.5 L1042.4,1185.0 L1042.6,1183.5 L1042.8,1182.0 L1043.0,1180.6 L1043.2,1179.1 L1043.4,1177.6 L1043.5,1176.1 L1043.7,1174.6 L1043.9,1173.2 L1044.1,1171.7 L1044.3,1170.2 L1044.5,1168.7 L1044.7,1167.3 L1044.9,1165.8 L1045.1,1164.3 L1045.3,1162.8 L1045.5,1161.4 L1045.7,1159.9 L1045.9,1158.4 L1046.0,1156.9 L1046.2,1155.5 L1046.4,1154.0 L1046.6,1152.5 L1046.8,1151.0 L1047.0,1149.6 L1047.2,1148.1 L1047.4,1146.6 L1047.6,1145.1 L1047.8,1143.7 L1048.0,1142.2 L1048.2,1140.7 L1048.3,1139.2 L1048.5,1137.8 L1048.7,1136.3 L1048.9,1134.8 L1049.1,1133.3 L1049.3,1131.9 L1049.5,1130.4 L1049.7,1128.9 L1049.9,1127.4 L1050.1,1125.9 L1050.2,1124.5 L1050.4,1123.0 L1050.6,1121.5 L1050.8,1120.0 L1051.0,1118.5 L1051.2,1117.1 L1051.4,1115.6 L1051.6,1114.1 L1051.7,1112.6 L1051.9,1111.1 L1052.1,1109.7 L1052.3,1108.2 L1052.5,1106.7 L1052.7,1105.2 L1052.9,1103.7 L1053.0,1102.2 L1053.2,1100.7 L1053.4,1099.2 L1053.6,1097.8 L1053.8,1096.3 L1054.0,1094.8 L1054.1,1093.3 L1054.3,1091.8 L1054.5,1090.3 L1054.7,1088.8 L1054.9,1087.3 L1055.0,1085.8 L1055.2,1084.3 L1055.4,1082.8 L1055.6,1081.3 L1055.8,1079.8 L1055.9,1078.3 L1056.1,1076.8 L1056.3,1075.3 L1056.5,1073.8 L1056.6,1072.3 L1056.8,1070.8 L1057.0,1069.3 L1057.2,1067.8 L1057.3,1066.3 L1057.5,1064.7 L1057.7,1063.2 L1057.8,1061.7 L1058.0,1060.2 L1058.2,1058.7 L1058.3,1057.2"/>
</g>
<g stroke="#000" fill="none">
<rect x="382" y="40" width="1661" height="1339" stroke-width="6"/>
<line x1="382.0" y1="1376" x2="382.0" y2="1405" stroke-width="6"/>
<line x1="797.2" y1="1376" x2="797.2" y2="1405" stroke-width="6"/>
<line x1="1212.5" y1="1376" x2="1212.5" y2="1405" stroke-width="6"/>
<line x1="1627.8" y1="1376" x2="1627.8" y2="1405" stroke-width="6"/>
<line x1="2043.0" y1="1376" x2="2043.0" y2="1405" stroke-width="6"/>
<line x1="589.6" y1="1376" x2="589.6" y2="1392" stroke-width="5"/>
<line x1="1004.9" y1="1376" x2="1004.9" y2="1392" stroke-width="5"/>
<line x1="1420.1" y1="1376" x2="1420.1" y2="1392" stroke-width="5"/>
<line x1="1835.4" y1="1376" x2="1835.4" y2="1392" stroke-width="5"/>
<line x1="355" y1="1379.0" x2="385" y2="1379.0" stroke-width="6"/>
<line x1="355" y1="996.3" x2="385" y2="996.3" stroke-width="6"/>
<line x1="355" y1="613.7" x2="385" y2="613.7" stroke-width="6"/>
<line x1="355" y1="231.0" x2="385" y2="231.0" stroke-width="6"/>
<line x1="369" y1="1187.7" x2="385" y2="1187.7" stroke-width="5"/>
<line x1="369" y1="805.0" x2="385" y2="805.0" stroke-width="5"/>
<line x1="369" y1="422.3" x2="385" y2="422.3" stroke-width="5"/>
<line x1="369" y1="39.7" x2="385" y2="39.7" stroke-width="5"/>
</g>
<text x="382.0" y="1483" font-size="76.4" text-anchor="middle" transform="translate(0,1483) scale(1,1.04) translate(0,-1483)">0.000</text>
<text x="797.2" y="1483" font-size="76.4" text-anchor="middle" transform="translate(0,1483) scale(1,1.04) translate(0,-1483)">0.002</text>
<text x="1212.5" y="1483" font-size="76.4" text-anchor="middle" transform="translate(0,1483) scale(1,1.04) translate(0,-1483)">0.004</text>
<text x="1627.8" y="1483" font-size="76.4" text-anchor="middle" transform="translate(0,1483) scale(1,1.04) translate(0,-1483)">0.006</text>
<text x="2043.0" y="1483" font-size="76.4" text-anchor="middle" transform="translate(0,1483) scale(1,1.04) translate(0,-1483)">0.008</text>
<text x="337.5" y="1400.5" font-size="69.8" text-anchor="end" transform="translate(0,1400.5) scale(1,1.05) translate(0,-1400.5)">0.000</text>
<text x="337.5" y="1017.8" font-size="69.8" text-anchor="end" transform="translate(0,1017.8) scale(1,1.05) translate(0,-1017.8)">0.002</text>
<text x="337.5" y="635.2" font-size="69.8" text-anchor="end" transform="translate(0,635.2) scale(1,1.05) translate(0,-635.2)">0.004</text>
<text x="337.5" y="252.5" font-size="69.8" text-anchor="end" transform="translate(0,252.5) scale(1,1.05) translate(0,-252.5)">0.006</text>
<text x="1035" y="1596.5" font-size="82.4" font-weight="bold">Z' / &#937;&#183;m<tspan font-size="58" dy="-30">2</tspan></text>
<text transform="translate(107,958.5) rotate(-90)" x="0" y="0" font-size="82.4" font-weight="bold">-Z'' / &#937;&#183;m<tspan font-size="58" dy="-28.5">2</tspan></text>
<rect x="1530" y="573" width="445" height="761" fill="none" stroke="#000" stroke-width="2"/>
<line x1="1537" y1="650.5" x2="1697" y2="650.5" stroke="#000000" stroke-width="5"/>
<text x="1713" y="675.0" font-size="69">1&#215;10<tspan font-size="48" dy="-30">-8</tspan><tspan dy="30"> m</tspan></text>
<line x1="1537" y1="776.5" x2="1697" y2="776.5" stroke="#FF0000" stroke-width="5"/>
<text x="1713" y="801.0" font-size="69">5&#215;10<tspan font-size="48" dy="-30">-8</tspan><tspan dy="30"> m</tspan></text>
<line x1="1537" y1="902.6" x2="1697" y2="902.6" stroke="#0000FF" stroke-width="5"/>
<text x="1713" y="927.1" font-size="69">8&#215;10<tspan font-size="48" dy="-30">-7</tspan><tspan dy="30"> m</tspan></text>
<line x1="1537" y1="1028.6" x2="1697" y2="1028.6" stroke="#008000" stroke-width="5"/>
<text x="1713" y="1053.1" font-size="69">1&#215;10<tspan font-size="48" dy="-30">-7</tspan><tspan dy="30"> m</tspan></text>
<line x1="1537" y1="1154.7" x2="1697" y2="1154.7" stroke="#FF00FF" stroke-width="5"/>
<text x="1713" y="1179.2" font-size="69">5&#215;10<tspan font-size="48" dy="-30">-7</tspan><tspan dy="30"> m</tspan></text>
<line x1="1537" y1="1280.7" x2="1697" y2="1280.7" stroke="#FF8000" stroke-width="5"/>
<text x="1713" y="1305.2" font-size="69">8&#215;10<tspan font-size="48" dy="-30">-7</tspan><tspan dy="30"> m</tspan></text>
</svg></body></html>
